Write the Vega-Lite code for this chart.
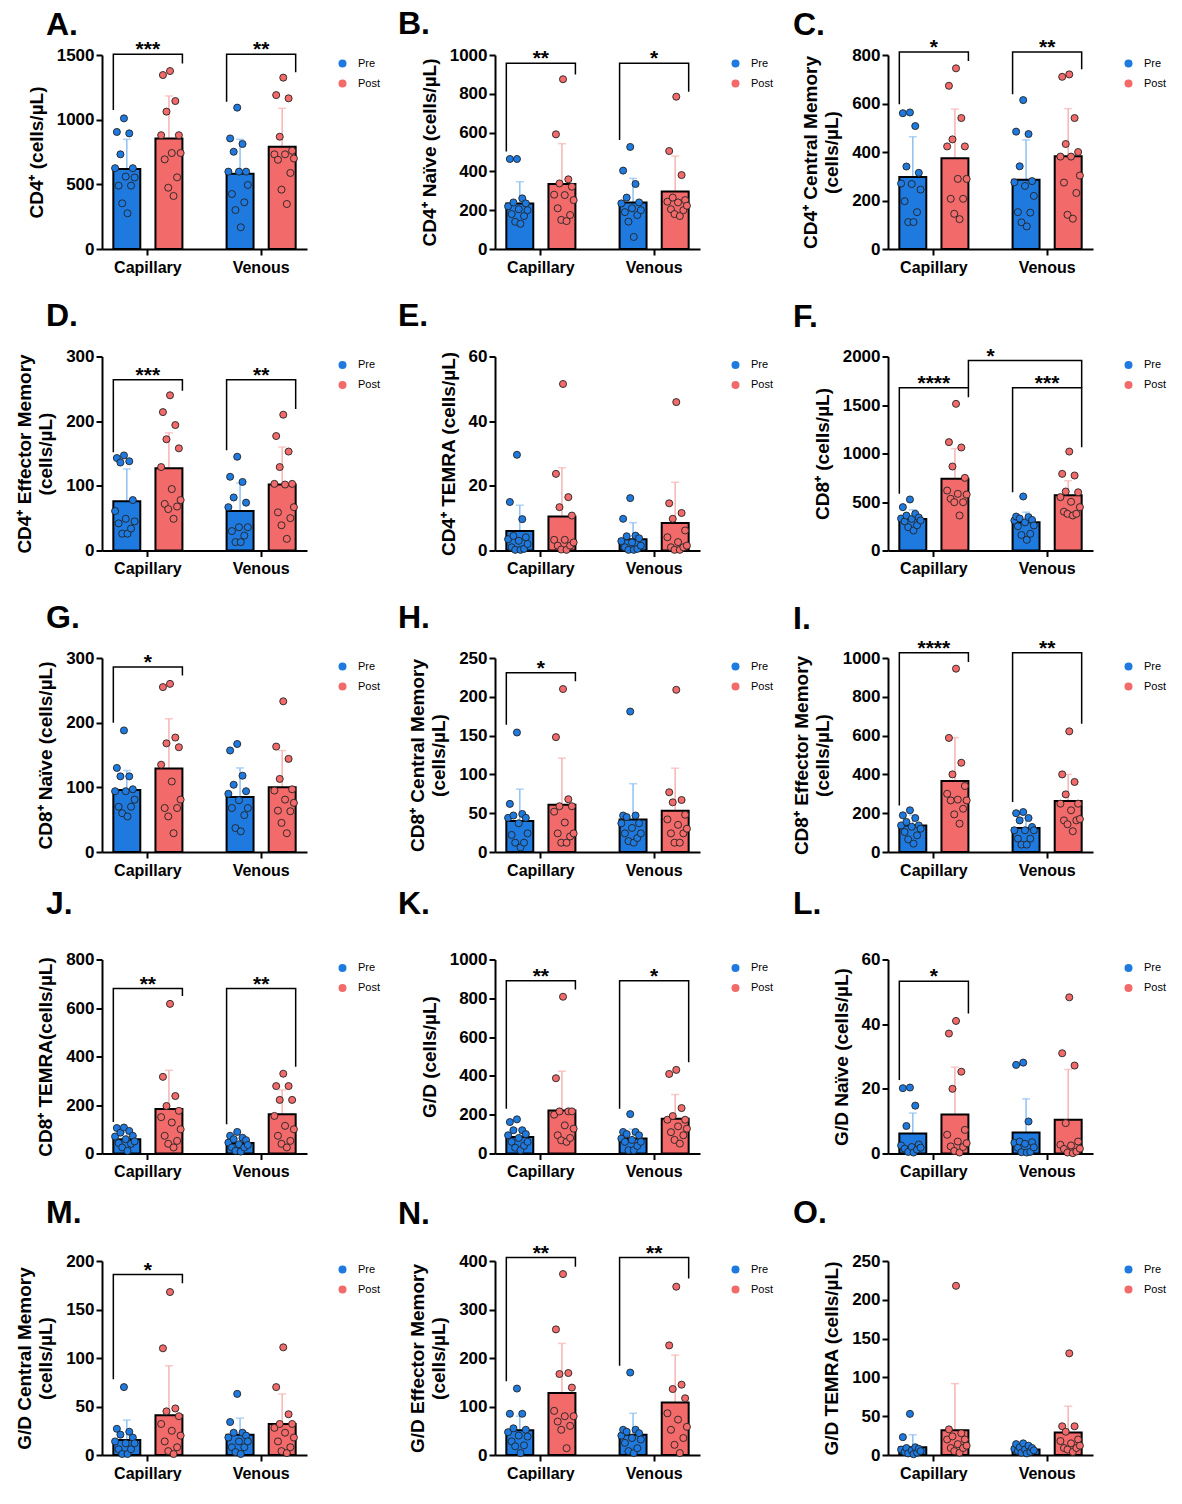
{
  "$schema": "https://vega.github.io/schema/vega-lite/v6.json",
  "padding": {"left": 15, "top": 8, "right": 0, "bottom": 0},
  "columns": 3,
  "bounds": "flush",
  "spacing": {"row": 107.5, "column": 188},
  "resolve": {"scale": {"color": "independent"}, "legend": {"color": "independent"}},
  "datasets": {
    "summary": [
      {"p":"A","s":"Capillary","t":"Pre","v":618,"hi":848},{"p":"A","s":"Capillary","t":"Post","v":855,"hi":1183},{"p":"A","s":"Venous","t":"Pre","v":582,"hi":848},{"p":"A","s":"Venous","t":"Post","v":791,"hi":1088},
      {"p":"B","s":"Capillary","t":"Pre","v":235,"hi":347},{"p":"B","s":"Capillary","t":"Post","v":335,"hi":543},{"p":"B","s":"Venous","t":"Pre","v":240,"hi":364},{"p":"B","s":"Venous","t":"Post","v":296,"hi":479},
      {"p":"C","s":"Capillary","t":"Pre","v":297,"hi":463},{"p":"C","s":"Capillary","t":"Post","v":374,"hi":577},{"p":"C","s":"Venous","t":"Pre","v":286,"hi":450},{"p":"C","s":"Venous","t":"Post","v":382,"hi":579},
      {"p":"D","s":"Capillary","t":"Pre","v":76,"hi":126},{"p":"D","s":"Capillary","t":"Post","v":127,"hi":182},{"p":"D","s":"Venous","t":"Pre","v":61,"hi":104},{"p":"D","s":"Venous","t":"Post","v":102,"hi":160},
      {"p":"E","s":"Capillary","t":"Pre","v":6.0,"hi":14},{"p":"E","s":"Capillary","t":"Post","v":10.5,"hi":25.6},{"p":"E","s":"Venous","t":"Pre","v":3.5,"hi":8.6},{"p":"E","s":"Venous","t":"Post","v":8.5,"hi":21.1},
      {"p":"F","s":"Capillary","t":"Pre","v":326,"hi":420},{"p":"F","s":"Capillary","t":"Post","v":740,"hi":1050},{"p":"F","s":"Venous","t":"Pre","v":292,"hi":395},{"p":"F","s":"Venous","t":"Post","v":570,"hi":720},
      {"p":"G","s":"Capillary","t":"Pre","v":96,"hi":126},{"p":"G","s":"Capillary","t":"Post","v":129,"hi":206},{"p":"G","s":"Venous","t":"Pre","v":85,"hi":130},{"p":"G","s":"Venous","t":"Post","v":100,"hi":157},
      {"p":"H","s":"Capillary","t":"Pre","v":40,"hi":81},{"p":"H","s":"Capillary","t":"Post","v":61,"hi":121},{"p":"H","s":"Venous","t":"Pre","v":42,"hi":88},{"p":"H","s":"Venous","t":"Post","v":53,"hi":108},
      {"p":"I","s":"Capillary","t":"Pre","v":137,"hi":190},{"p":"I","s":"Capillary","t":"Post","v":366,"hi":590},{"p":"I","s":"Venous","t":"Pre","v":124,"hi":175},{"p":"I","s":"Venous","t":"Post","v":263,"hi":400},
      {"p":"J","s":"Capillary","t":"Pre","v":59,"hi":86},{"p":"J","s":"Capillary","t":"Post","v":183,"hi":343},{"p":"J","s":"Venous","t":"Pre","v":43,"hi":62},{"p":"J","s":"Venous","t":"Post","v":162,"hi":262},
      {"p":"K","s":"Capillary","t":"Pre","v":85,"hi":128},{"p":"K","s":"Capillary","t":"Post","v":222,"hi":424},{"p":"K","s":"Venous","t":"Pre","v":77,"hi":125},{"p":"K","s":"Venous","t":"Post","v":179,"hi":304},
      {"p":"L","s":"Capillary","t":"Pre","v":6.2,"hi":12.5},{"p":"L","s":"Capillary","t":"Post","v":12.1,"hi":26.7},{"p":"L","s":"Venous","t":"Pre","v":6.5,"hi":16.9},{"p":"L","s":"Venous","t":"Post","v":10.4,"hi":26},
      {"p":"M","s":"Capillary","t":"Pre","v":15.5,"hi":36},{"p":"M","s":"Capillary","t":"Post","v":41,"hi":92},{"p":"M","s":"Venous","t":"Pre","v":21,"hi":38},{"p":"M","s":"Venous","t":"Post","v":32,"hi":63},
      {"p":"N","s":"Capillary","t":"Pre","v":51,"hi":80},{"p":"N","s":"Capillary","t":"Post","v":128,"hi":230},{"p":"N","s":"Venous","t":"Pre","v":42,"hi":86},{"p":"N","s":"Venous","t":"Post","v":108,"hi":206},
      {"p":"O","s":"Capillary","t":"Pre","v":10,"hi":26},{"p":"O","s":"Capillary","t":"Post","v":32,"hi":92},{"p":"O","s":"Venous","t":"Pre","v":7,"hi":12},{"p":"O","s":"Venous","t":"Post","v":29,"hi":63}
    ],
    "pts": [
      {"p":"A","s":"Capillary","t":"Pre","v":625},{"p":"A","s":"Capillary","t":"Pre","v":905},{"p":"A","s":"Capillary","t":"Pre","v":490},{"p":"A","s":"Capillary","t":"Pre","v":732},{"p":"A","s":"Capillary","t":"Pre","v":353},{"p":"A","s":"Capillary","t":"Pre","v":1010},{"p":"A","s":"Capillary","t":"Pre","v":560},{"p":"A","s":"Capillary","t":"Pre","v":276},{"p":"A","s":"Capillary","t":"Pre","v":894},{"p":"A","s":"Capillary","t":"Pre","v":490},{"p":"A","s":"Capillary","t":"Pre","v":625},{"p":"A","s":"Capillary","t":"Pre","v":553},
      {"p":"A","s":"Capillary","t":"Post","v":880},{"p":"A","s":"Capillary","t":"Post","v":1345},{"p":"A","s":"Capillary","t":"Post","v":693},{"p":"A","s":"Capillary","t":"Post","v":1062},{"p":"A","s":"Capillary","t":"Post","v":474},{"p":"A","s":"Capillary","t":"Post","v":1376},{"p":"A","s":"Capillary","t":"Post","v":742},{"p":"A","s":"Capillary","t":"Post","v":410},{"p":"A","s":"Capillary","t":"Post","v":1144},{"p":"A","s":"Capillary","t":"Post","v":554},{"p":"A","s":"Capillary","t":"Post","v":880},{"p":"A","s":"Capillary","t":"Post","v":742},
      {"p":"A","s":"Venous","t":"Pre","v":598},{"p":"A","s":"Venous","t":"Pre","v":855},{"p":"A","s":"Venous","t":"Pre","v":425},{"p":"A","s":"Venous","t":"Pre","v":752},{"p":"A","s":"Venous","t":"Pre","v":301},{"p":"A","s":"Venous","t":"Pre","v":1093},{"p":"A","s":"Venous","t":"Pre","v":598},{"p":"A","s":"Venous","t":"Pre","v":168},{"p":"A","s":"Venous","t":"Pre","v":812},{"p":"A","s":"Venous","t":"Pre","v":361},{"p":"A","s":"Venous","t":"Pre","v":598},{"p":"A","s":"Venous","t":"Pre","v":495},
      {"p":"A","s":"Venous","t":"Post","v":732},{"p":"A","s":"Venous","t":"Post","v":1190},{"p":"A","s":"Venous","t":"Post","v":690},{"p":"A","s":"Venous","t":"Post","v":868},{"p":"A","s":"Venous","t":"Post","v":459},{"p":"A","s":"Venous","t":"Post","v":1325},{"p":"A","s":"Venous","t":"Post","v":732},{"p":"A","s":"Venous","t":"Post","v":348},{"p":"A","s":"Venous","t":"Post","v":1165},{"p":"A","s":"Venous","t":"Post","v":588},{"p":"A","s":"Venous","t":"Post","v":760},{"p":"A","s":"Venous","t":"Post","v":700},
      {"p":"B","s":"Capillary","t":"Pre","v":220},{"p":"B","s":"Capillary","t":"Pre","v":464},{"p":"B","s":"Capillary","t":"Pre","v":180},{"p":"B","s":"Capillary","t":"Pre","v":240},{"p":"B","s":"Capillary","t":"Pre","v":140},{"p":"B","s":"Capillary","t":"Pre","v":464},{"p":"B","s":"Capillary","t":"Pre","v":205},{"p":"B","s":"Capillary","t":"Pre","v":130},{"p":"B","s":"Capillary","t":"Pre","v":261},{"p":"B","s":"Capillary","t":"Pre","v":170},{"p":"B","s":"Capillary","t":"Pre","v":235},{"p":"B","s":"Capillary","t":"Pre","v":200},
      {"p":"B","s":"Capillary","t":"Post","v":280},{"p":"B","s":"Capillary","t":"Post","v":591},{"p":"B","s":"Capillary","t":"Post","v":210},{"p":"B","s":"Capillary","t":"Post","v":338},{"p":"B","s":"Capillary","t":"Post","v":150},{"p":"B","s":"Capillary","t":"Post","v":875},{"p":"B","s":"Capillary","t":"Post","v":278},{"p":"B","s":"Capillary","t":"Post","v":144},{"p":"B","s":"Capillary","t":"Post","v":359},{"p":"B","s":"Capillary","t":"Post","v":175},{"p":"B","s":"Capillary","t":"Post","v":321},{"p":"B","s":"Capillary","t":"Post","v":252},
      {"p":"B","s":"Venous","t":"Pre","v":235},{"p":"B","s":"Venous","t":"Pre","v":404},{"p":"B","s":"Venous","t":"Pre","v":190},{"p":"B","s":"Venous","t":"Pre","v":265},{"p":"B","s":"Venous","t":"Pre","v":141},{"p":"B","s":"Venous","t":"Pre","v":526},{"p":"B","s":"Venous","t":"Pre","v":210},{"p":"B","s":"Venous","t":"Pre","v":62},{"p":"B","s":"Venous","t":"Pre","v":335},{"p":"B","s":"Venous","t":"Pre","v":175},{"p":"B","s":"Venous","t":"Pre","v":240},{"p":"B","s":"Venous","t":"Pre","v":200},
      {"p":"B","s":"Venous","t":"Post","v":244},{"p":"B","s":"Venous","t":"Post","v":505},{"p":"B","s":"Venous","t":"Post","v":205},{"p":"B","s":"Venous","t":"Post","v":265},{"p":"B","s":"Venous","t":"Post","v":180},{"p":"B","s":"Venous","t":"Post","v":785},{"p":"B","s":"Venous","t":"Post","v":240},{"p":"B","s":"Venous","t":"Post","v":170},{"p":"B","s":"Venous","t":"Post","v":381},{"p":"B","s":"Venous","t":"Post","v":200},{"p":"B","s":"Venous","t":"Post","v":252},{"p":"B","s":"Venous","t":"Post","v":223},
      {"p":"C","s":"Capillary","t":"Pre","v":270},{"p":"C","s":"Capillary","t":"Pre","v":560},{"p":"C","s":"Capillary","t":"Pre","v":197},{"p":"C","s":"Capillary","t":"Pre","v":340},{"p":"C","s":"Capillary","t":"Pre","v":111},{"p":"C","s":"Capillary","t":"Pre","v":563},{"p":"C","s":"Capillary","t":"Pre","v":268},{"p":"C","s":"Capillary","t":"Pre","v":111},{"p":"C","s":"Capillary","t":"Pre","v":507},{"p":"C","s":"Capillary","t":"Pre","v":152},{"p":"C","s":"Capillary","t":"Pre","v":314},{"p":"C","s":"Capillary","t":"Pre","v":245},
      {"p":"C","s":"Capillary","t":"Post","v":423},{"p":"C","s":"Capillary","t":"Post","v":673},{"p":"C","s":"Capillary","t":"Post","v":207},{"p":"C","s":"Capillary","t":"Post","v":452},{"p":"C","s":"Capillary","t":"Post","v":145},{"p":"C","s":"Capillary","t":"Post","v":745},{"p":"C","s":"Capillary","t":"Post","v":289},{"p":"C","s":"Capillary","t":"Post","v":123},{"p":"C","s":"Capillary","t":"Post","v":540},{"p":"C","s":"Capillary","t":"Post","v":207},{"p":"C","s":"Capillary","t":"Post","v":423},{"p":"C","s":"Capillary","t":"Post","v":289},
      {"p":"C","s":"Venous","t":"Pre","v":275},{"p":"C","s":"Venous","t":"Pre","v":484},{"p":"C","s":"Venous","t":"Pre","v":152},{"p":"C","s":"Venous","t":"Pre","v":341},{"p":"C","s":"Venous","t":"Pre","v":110},{"p":"C","s":"Venous","t":"Pre","v":614},{"p":"C","s":"Venous","t":"Pre","v":260},{"p":"C","s":"Venous","t":"Pre","v":93},{"p":"C","s":"Venous","t":"Pre","v":474},{"p":"C","s":"Venous","t":"Pre","v":150},{"p":"C","s":"Venous","t":"Pre","v":280},{"p":"C","s":"Venous","t":"Pre","v":219},
      {"p":"C","s":"Venous","t":"Post","v":381},{"p":"C","s":"Venous","t":"Post","v":710},{"p":"C","s":"Venous","t":"Post","v":274},{"p":"C","s":"Venous","t":"Post","v":433},{"p":"C","s":"Venous","t":"Post","v":141},{"p":"C","s":"Venous","t":"Post","v":720},{"p":"C","s":"Venous","t":"Post","v":381},{"p":"C","s":"Venous","t":"Post","v":125},{"p":"C","s":"Venous","t":"Post","v":540},{"p":"C","s":"Venous","t":"Post","v":231},{"p":"C","s":"Venous","t":"Post","v":400},{"p":"C","s":"Venous","t":"Post","v":303},
      {"p":"D","s":"Capillary","t":"Pre","v":61},{"p":"D","s":"Capillary","t":"Pre","v":143},{"p":"D","s":"Capillary","t":"Pre","v":42},{"p":"D","s":"Capillary","t":"Pre","v":136},{"p":"D","s":"Capillary","t":"Pre","v":26},{"p":"D","s":"Capillary","t":"Pre","v":147},{"p":"D","s":"Capillary","t":"Pre","v":49},{"p":"D","s":"Capillary","t":"Pre","v":26},{"p":"D","s":"Capillary","t":"Pre","v":138},{"p":"D","s":"Capillary","t":"Pre","v":34},{"p":"D","s":"Capillary","t":"Pre","v":78},{"p":"D","s":"Capillary","t":"Pre","v":45},
      {"p":"D","s":"Capillary","t":"Post","v":129},{"p":"D","s":"Capillary","t":"Post","v":214},{"p":"D","s":"Capillary","t":"Post","v":72},{"p":"D","s":"Capillary","t":"Post","v":172},{"p":"D","s":"Capillary","t":"Post","v":64},{"p":"D","s":"Capillary","t":"Post","v":240},{"p":"D","s":"Capillary","t":"Post","v":95},{"p":"D","s":"Capillary","t":"Post","v":49},{"p":"D","s":"Capillary","t":"Post","v":194},{"p":"D","s":"Capillary","t":"Post","v":68},{"p":"D","s":"Capillary","t":"Post","v":158},{"p":"D","s":"Capillary","t":"Post","v":78},
      {"p":"D","s":"Venous","t":"Pre","v":67},{"p":"D","s":"Venous","t":"Pre","v":114},{"p":"D","s":"Venous","t":"Pre","v":30},{"p":"D","s":"Venous","t":"Pre","v":82},{"p":"D","s":"Venous","t":"Pre","v":13},{"p":"D","s":"Venous","t":"Pre","v":145},{"p":"D","s":"Venous","t":"Pre","v":36},{"p":"D","s":"Venous","t":"Pre","v":13},{"p":"D","s":"Venous","t":"Pre","v":106},{"p":"D","s":"Venous","t":"Pre","v":23},{"p":"D","s":"Venous","t":"Pre","v":74},{"p":"D","s":"Venous","t":"Pre","v":36},
      {"p":"D","s":"Venous","t":"Post","v":103},{"p":"D","s":"Venous","t":"Post","v":177},{"p":"D","s":"Venous","t":"Post","v":59},{"p":"D","s":"Venous","t":"Post","v":129},{"p":"D","s":"Venous","t":"Post","v":39},{"p":"D","s":"Venous","t":"Post","v":210},{"p":"D","s":"Venous","t":"Post","v":102},{"p":"D","s":"Venous","t":"Post","v":18},{"p":"D","s":"Venous","t":"Post","v":153},{"p":"D","s":"Venous","t":"Post","v":50},{"p":"D","s":"Venous","t":"Post","v":103},{"p":"D","s":"Venous","t":"Post","v":67},
      {"p":"E","s":"Capillary","t":"Pre","v":3.5},{"p":"E","s":"Capillary","t":"Pre","v":15},{"p":"E","s":"Capillary","t":"Pre","v":1},{"p":"E","s":"Capillary","t":"Pre","v":4.5},{"p":"E","s":"Capillary","t":"Pre","v":0.2},{"p":"E","s":"Capillary","t":"Pre","v":29.6},{"p":"E","s":"Capillary","t":"Pre","v":3},{"p":"E","s":"Capillary","t":"Pre","v":0.2},{"p":"E","s":"Capillary","t":"Pre","v":9.7},{"p":"E","s":"Capillary","t":"Pre","v":0.5},{"p":"E","s":"Capillary","t":"Pre","v":4.1},{"p":"E","s":"Capillary","t":"Pre","v":2},
      {"p":"E","s":"Capillary","t":"Post","v":3.3},{"p":"E","s":"Capillary","t":"Post","v":23.7},{"p":"E","s":"Capillary","t":"Post","v":1.5},{"p":"E","s":"Capillary","t":"Post","v":13.4},{"p":"E","s":"Capillary","t":"Post","v":0.3},{"p":"E","s":"Capillary","t":"Post","v":51.5},{"p":"E","s":"Capillary","t":"Post","v":3.3},{"p":"E","s":"Capillary","t":"Post","v":0.2},{"p":"E","s":"Capillary","t":"Post","v":16.5},{"p":"E","s":"Capillary","t":"Post","v":1.5},{"p":"E","s":"Capillary","t":"Post","v":10.8},{"p":"E","s":"Capillary","t":"Post","v":2.5},
      {"p":"E","s":"Venous","t":"Pre","v":2.9},{"p":"E","s":"Venous","t":"Pre","v":9.8},{"p":"E","s":"Venous","t":"Pre","v":1.0},{"p":"E","s":"Venous","t":"Pre","v":4.4},{"p":"E","s":"Venous","t":"Pre","v":0.2},{"p":"E","s":"Venous","t":"Pre","v":16.2},{"p":"E","s":"Venous","t":"Pre","v":2.5},{"p":"E","s":"Venous","t":"Pre","v":0.2},{"p":"E","s":"Venous","t":"Pre","v":4.6},{"p":"E","s":"Venous","t":"Pre","v":0.5},{"p":"E","s":"Venous","t":"Pre","v":3.8},{"p":"E","s":"Venous","t":"Pre","v":1.5},
      {"p":"E","s":"Venous","t":"Post","v":4.1},{"p":"E","s":"Venous","t":"Post","v":14.6},{"p":"E","s":"Venous","t":"Post","v":1.0},{"p":"E","s":"Venous","t":"Post","v":9.8},{"p":"E","s":"Venous","t":"Post","v":0.2},{"p":"E","s":"Venous","t":"Post","v":45.9},{"p":"E","s":"Venous","t":"Post","v":2.6},{"p":"E","s":"Venous","t":"Post","v":0.2},{"p":"E","s":"Venous","t":"Post","v":11.6},{"p":"E","s":"Venous","t":"Post","v":1.0},{"p":"E","s":"Venous","t":"Post","v":6.2},{"p":"E","s":"Venous","t":"Post","v":1.5},
      {"p":"F","s":"Capillary","t":"Pre","v":330},{"p":"F","s":"Capillary","t":"Pre","v":447},{"p":"F","s":"Capillary","t":"Pre","v":300},{"p":"F","s":"Capillary","t":"Pre","v":360},{"p":"F","s":"Capillary","t":"Pre","v":240},{"p":"F","s":"Capillary","t":"Pre","v":526},{"p":"F","s":"Capillary","t":"Pre","v":326},{"p":"F","s":"Capillary","t":"Pre","v":206},{"p":"F","s":"Capillary","t":"Pre","v":378},{"p":"F","s":"Capillary","t":"Pre","v":260},{"p":"F","s":"Capillary","t":"Pre","v":340},{"p":"F","s":"Capillary","t":"Pre","v":310},
      {"p":"F","s":"Capillary","t":"Post","v":618},{"p":"F","s":"Capillary","t":"Post","v":1117},{"p":"F","s":"Capillary","t":"Post","v":533},{"p":"F","s":"Capillary","t":"Post","v":866},{"p":"F","s":"Capillary","t":"Post","v":498},{"p":"F","s":"Capillary","t":"Post","v":1512},{"p":"F","s":"Capillary","t":"Post","v":584},{"p":"F","s":"Capillary","t":"Post","v":361},{"p":"F","s":"Capillary","t":"Post","v":1062},{"p":"F","s":"Capillary","t":"Post","v":498},{"p":"F","s":"Capillary","t":"Post","v":749},{"p":"F","s":"Capillary","t":"Post","v":577},
      {"p":"F","s":"Venous","t":"Pre","v":310},{"p":"F","s":"Venous","t":"Pre","v":350},{"p":"F","s":"Venous","t":"Pre","v":250},{"p":"F","s":"Venous","t":"Pre","v":330},{"p":"F","s":"Venous","t":"Pre","v":160},{"p":"F","s":"Venous","t":"Pre","v":557},{"p":"F","s":"Venous","t":"Pre","v":290},{"p":"F","s":"Venous","t":"Pre","v":110},{"p":"F","s":"Venous","t":"Pre","v":344},{"p":"F","s":"Venous","t":"Pre","v":172},{"p":"F","s":"Venous","t":"Pre","v":315},{"p":"F","s":"Venous","t":"Pre","v":258},
      {"p":"F","s":"Venous","t":"Post","v":550},{"p":"F","s":"Venous","t":"Post","v":790},{"p":"F","s":"Venous","t":"Post","v":400},{"p":"F","s":"Venous","t":"Post","v":608},{"p":"F","s":"Venous","t":"Post","v":378},{"p":"F","s":"Venous","t":"Post","v":1020},{"p":"F","s":"Venous","t":"Post","v":502},{"p":"F","s":"Venous","t":"Post","v":361},{"p":"F","s":"Venous","t":"Post","v":773},{"p":"F","s":"Venous","t":"Post","v":378},{"p":"F","s":"Venous","t":"Post","v":600},{"p":"F","s":"Venous","t":"Post","v":447},
      {"p":"G","s":"Capillary","t":"Pre","v":94},{"p":"G","s":"Capillary","t":"Pre","v":130},{"p":"G","s":"Capillary","t":"Pre","v":70},{"p":"G","s":"Capillary","t":"Pre","v":117},{"p":"G","s":"Capillary","t":"Pre","v":60},{"p":"G","s":"Capillary","t":"Pre","v":188},{"p":"G","s":"Capillary","t":"Pre","v":94},{"p":"G","s":"Capillary","t":"Pre","v":55},{"p":"G","s":"Capillary","t":"Pre","v":117},{"p":"G","s":"Capillary","t":"Pre","v":70},{"p":"G","s":"Capillary","t":"Pre","v":97},{"p":"G","s":"Capillary","t":"Pre","v":81},
      {"p":"G","s":"Capillary","t":"Post","v":135},{"p":"G","s":"Capillary","t":"Post","v":255},{"p":"G","s":"Capillary","t":"Post","v":68},{"p":"G","s":"Capillary","t":"Post","v":168},{"p":"G","s":"Capillary","t":"Post","v":55},{"p":"G","s":"Capillary","t":"Post","v":260},{"p":"G","s":"Capillary","t":"Post","v":109},{"p":"G","s":"Capillary","t":"Post","v":29},{"p":"G","s":"Capillary","t":"Post","v":177},{"p":"G","s":"Capillary","t":"Post","v":68},{"p":"G","s":"Capillary","t":"Post","v":162},{"p":"G","s":"Capillary","t":"Post","v":81},
      {"p":"G","s":"Venous","t":"Pre","v":90},{"p":"G","s":"Venous","t":"Pre","v":157},{"p":"G","s":"Venous","t":"Pre","v":68},{"p":"G","s":"Venous","t":"Pre","v":104},{"p":"G","s":"Venous","t":"Pre","v":37},{"p":"G","s":"Venous","t":"Pre","v":167},{"p":"G","s":"Venous","t":"Pre","v":80},{"p":"G","s":"Venous","t":"Pre","v":32},{"p":"G","s":"Venous","t":"Pre","v":118},{"p":"G","s":"Venous","t":"Pre","v":57},{"p":"G","s":"Venous","t":"Pre","v":94},{"p":"G","s":"Venous","t":"Pre","v":68},
      {"p":"G","s":"Venous","t":"Post","v":95},{"p":"G","s":"Venous","t":"Post","v":163},{"p":"G","s":"Venous","t":"Post","v":64},{"p":"G","s":"Venous","t":"Post","v":113},{"p":"G","s":"Venous","t":"Post","v":45},{"p":"G","s":"Venous","t":"Post","v":233},{"p":"G","s":"Venous","t":"Post","v":81},{"p":"G","s":"Venous","t":"Post","v":29},{"p":"G","s":"Venous","t":"Post","v":144},{"p":"G","s":"Venous","t":"Post","v":63},{"p":"G","s":"Venous","t":"Post","v":97},{"p":"G","s":"Venous","t":"Post","v":76},
      {"p":"H","s":"Capillary","t":"Pre","v":44},{"p":"H","s":"Capillary","t":"Pre","v":62},{"p":"H","s":"Capillary","t":"Pre","v":22},{"p":"H","s":"Capillary","t":"Pre","v":47},{"p":"H","s":"Capillary","t":"Pre","v":12},{"p":"H","s":"Capillary","t":"Pre","v":154},{"p":"H","s":"Capillary","t":"Pre","v":37},{"p":"H","s":"Capillary","t":"Pre","v":6},{"p":"H","s":"Capillary","t":"Pre","v":49},{"p":"H","s":"Capillary","t":"Pre","v":12},{"p":"H","s":"Capillary","t":"Pre","v":44},{"p":"H","s":"Capillary","t":"Pre","v":24},
      {"p":"H","s":"Capillary","t":"Post","v":52},{"p":"H","s":"Capillary","t":"Post","v":148},{"p":"H","s":"Capillary","t":"Post","v":24},{"p":"H","s":"Capillary","t":"Post","v":59},{"p":"H","s":"Capillary","t":"Post","v":12},{"p":"H","s":"Capillary","t":"Post","v":210},{"p":"H","s":"Capillary","t":"Post","v":38},{"p":"H","s":"Capillary","t":"Post","v":12},{"p":"H","s":"Capillary","t":"Post","v":68},{"p":"H","s":"Capillary","t":"Post","v":20},{"p":"H","s":"Capillary","t":"Post","v":59},{"p":"H","s":"Capillary","t":"Post","v":24},
      {"p":"H","s":"Venous","t":"Pre","v":37},{"p":"H","s":"Venous","t":"Pre","v":47},{"p":"H","s":"Venous","t":"Pre","v":24},{"p":"H","s":"Venous","t":"Pre","v":45},{"p":"H","s":"Venous","t":"Pre","v":14},{"p":"H","s":"Venous","t":"Pre","v":181},{"p":"H","s":"Venous","t":"Pre","v":31},{"p":"H","s":"Venous","t":"Pre","v":12},{"p":"H","s":"Venous","t":"Pre","v":47},{"p":"H","s":"Venous","t":"Pre","v":18},{"p":"H","s":"Venous","t":"Pre","v":37},{"p":"H","s":"Venous","t":"Pre","v":24},
      {"p":"H","s":"Venous","t":"Post","v":42},{"p":"H","s":"Venous","t":"Post","v":77},{"p":"H","s":"Venous","t":"Post","v":24},{"p":"H","s":"Venous","t":"Post","v":64},{"p":"H","s":"Venous","t":"Post","v":12},{"p":"H","s":"Venous","t":"Post","v":209},{"p":"H","s":"Venous","t":"Post","v":35},{"p":"H","s":"Venous","t":"Post","v":12},{"p":"H","s":"Venous","t":"Post","v":67},{"p":"H","s":"Venous","t":"Post","v":24},{"p":"H","s":"Venous","t":"Post","v":48},{"p":"H","s":"Venous","t":"Post","v":30},
      {"p":"I","s":"Capillary","t":"Pre","v":137},{"p":"I","s":"Capillary","t":"Pre","v":189},{"p":"I","s":"Capillary","t":"Pre","v":103},{"p":"I","s":"Capillary","t":"Pre","v":155},{"p":"I","s":"Capillary","t":"Pre","v":65},{"p":"I","s":"Capillary","t":"Pre","v":215},{"p":"I","s":"Capillary","t":"Pre","v":130},{"p":"I","s":"Capillary","t":"Pre","v":43},{"p":"I","s":"Capillary","t":"Pre","v":175},{"p":"I","s":"Capillary","t":"Pre","v":86},{"p":"I","s":"Capillary","t":"Pre","v":137},{"p":"I","s":"Capillary","t":"Pre","v":120},
      {"p":"I","s":"Capillary","t":"Post","v":300},{"p":"I","s":"Capillary","t":"Post","v":588},{"p":"I","s":"Capillary","t":"Post","v":266},{"p":"I","s":"Capillary","t":"Post","v":400},{"p":"I","s":"Capillary","t":"Post","v":194},{"p":"I","s":"Capillary","t":"Post","v":945},{"p":"I","s":"Capillary","t":"Post","v":270},{"p":"I","s":"Capillary","t":"Post","v":146},{"p":"I","s":"Capillary","t":"Post","v":460},{"p":"I","s":"Capillary","t":"Post","v":223},{"p":"I","s":"Capillary","t":"Post","v":340},{"p":"I","s":"Capillary","t":"Post","v":266},
      {"p":"I","s":"Venous","t":"Pre","v":112},{"p":"I","s":"Venous","t":"Pre","v":200},{"p":"I","s":"Venous","t":"Pre","v":69},{"p":"I","s":"Venous","t":"Pre","v":163},{"p":"I","s":"Venous","t":"Pre","v":38},{"p":"I","s":"Venous","t":"Pre","v":206},{"p":"I","s":"Venous","t":"Pre","v":112},{"p":"I","s":"Venous","t":"Pre","v":38},{"p":"I","s":"Venous","t":"Pre","v":175},{"p":"I","s":"Venous","t":"Pre","v":69},{"p":"I","s":"Venous","t":"Pre","v":129},{"p":"I","s":"Venous","t":"Pre","v":112},
      {"p":"I","s":"Venous","t":"Post","v":249},{"p":"I","s":"Venous","t":"Post","v":400},{"p":"I","s":"Venous","t":"Post","v":163},{"p":"I","s":"Venous","t":"Post","v":297},{"p":"I","s":"Venous","t":"Post","v":143},{"p":"I","s":"Venous","t":"Post","v":622},{"p":"I","s":"Venous","t":"Post","v":215},{"p":"I","s":"Venous","t":"Post","v":107},{"p":"I","s":"Venous","t":"Post","v":361},{"p":"I","s":"Venous","t":"Post","v":163},{"p":"I","s":"Venous","t":"Post","v":249},{"p":"I","s":"Venous","t":"Post","v":170},
      {"p":"J","s":"Capillary","t":"Pre","v":70},{"p":"J","s":"Capillary","t":"Pre","v":105},{"p":"J","s":"Capillary","t":"Pre","v":43},{"p":"J","s":"Capillary","t":"Pre","v":86},{"p":"J","s":"Capillary","t":"Pre","v":25},{"p":"J","s":"Capillary","t":"Pre","v":107},{"p":"J","s":"Capillary","t":"Pre","v":59},{"p":"J","s":"Capillary","t":"Pre","v":11},{"p":"J","s":"Capillary","t":"Pre","v":93},{"p":"J","s":"Capillary","t":"Pre","v":40},{"p":"J","s":"Capillary","t":"Pre","v":73},{"p":"J","s":"Capillary","t":"Pre","v":50},
      {"p":"J","s":"Capillary","t":"Post","v":150},{"p":"J","s":"Capillary","t":"Post","v":316},{"p":"J","s":"Capillary","t":"Post","v":73},{"p":"J","s":"Capillary","t":"Post","v":196},{"p":"J","s":"Capillary","t":"Post","v":40},{"p":"J","s":"Capillary","t":"Post","v":617},{"p":"J","s":"Capillary","t":"Post","v":128},{"p":"J","s":"Capillary","t":"Post","v":25},{"p":"J","s":"Capillary","t":"Post","v":237},{"p":"J","s":"Capillary","t":"Post","v":52},{"p":"J","s":"Capillary","t":"Post","v":176},{"p":"J","s":"Capillary","t":"Post","v":100},
      {"p":"J","s":"Venous","t":"Pre","v":45},{"p":"J","s":"Venous","t":"Pre","v":73},{"p":"J","s":"Venous","t":"Pre","v":25},{"p":"J","s":"Venous","t":"Pre","v":59},{"p":"J","s":"Venous","t":"Pre","v":11},{"p":"J","s":"Venous","t":"Pre","v":89},{"p":"J","s":"Venous","t":"Pre","v":38},{"p":"J","s":"Venous","t":"Pre","v":8},{"p":"J","s":"Venous","t":"Pre","v":65},{"p":"J","s":"Venous","t":"Pre","v":25},{"p":"J","s":"Venous","t":"Pre","v":55},{"p":"J","s":"Venous","t":"Pre","v":35},
      {"p":"J","s":"Venous","t":"Post","v":155},{"p":"J","s":"Venous","t":"Post","v":278},{"p":"J","s":"Venous","t":"Post","v":73},{"p":"J","s":"Venous","t":"Post","v":221},{"p":"J","s":"Venous","t":"Post","v":40},{"p":"J","s":"Venous","t":"Post","v":329},{"p":"J","s":"Venous","t":"Post","v":114},{"p":"J","s":"Venous","t":"Post","v":25},{"p":"J","s":"Venous","t":"Post","v":278},{"p":"J","s":"Venous","t":"Post","v":52},{"p":"J","s":"Venous","t":"Post","v":221},{"p":"J","s":"Venous","t":"Post","v":100},
      {"p":"K","s":"Capillary","t":"Pre","v":94},{"p":"K","s":"Capillary","t":"Pre","v":162},{"p":"K","s":"Capillary","t":"Pre","v":60},{"p":"K","s":"Capillary","t":"Pre","v":120},{"p":"K","s":"Capillary","t":"Pre","v":30},{"p":"K","s":"Capillary","t":"Pre","v":176},{"p":"K","s":"Capillary","t":"Pre","v":80},{"p":"K","s":"Capillary","t":"Pre","v":17},{"p":"K","s":"Capillary","t":"Pre","v":120},{"p":"K","s":"Capillary","t":"Pre","v":40},{"p":"K","s":"Capillary","t":"Pre","v":100},{"p":"K","s":"Capillary","t":"Pre","v":60},
      {"p":"K","s":"Capillary","t":"Post","v":200},{"p":"K","s":"Capillary","t":"Post","v":388},{"p":"K","s":"Capillary","t":"Post","v":94},{"p":"K","s":"Capillary","t":"Post","v":217},{"p":"K","s":"Capillary","t":"Post","v":68},{"p":"K","s":"Capillary","t":"Post","v":808},{"p":"K","s":"Capillary","t":"Post","v":145},{"p":"K","s":"Capillary","t":"Post","v":60},{"p":"K","s":"Capillary","t":"Post","v":217},{"p":"K","s":"Capillary","t":"Post","v":80},{"p":"K","s":"Capillary","t":"Post","v":217},{"p":"K","s":"Capillary","t":"Post","v":128},
      {"p":"K","s":"Venous","t":"Pre","v":77},{"p":"K","s":"Venous","t":"Pre","v":111},{"p":"K","s":"Venous","t":"Pre","v":60},{"p":"K","s":"Venous","t":"Pre","v":100},{"p":"K","s":"Venous","t":"Pre","v":17},{"p":"K","s":"Venous","t":"Pre","v":203},{"p":"K","s":"Venous","t":"Pre","v":70},{"p":"K","s":"Venous","t":"Pre","v":17},{"p":"K","s":"Venous","t":"Pre","v":111},{"p":"K","s":"Venous","t":"Pre","v":39},{"p":"K","s":"Venous","t":"Pre","v":94},{"p":"K","s":"Venous","t":"Pre","v":60},
      {"p":"K","s":"Venous","t":"Post","v":174},{"p":"K","s":"Venous","t":"Post","v":410},{"p":"K","s":"Venous","t":"Post","v":110},{"p":"K","s":"Venous","t":"Post","v":193},{"p":"K","s":"Venous","t":"Post","v":70},{"p":"K","s":"Venous","t":"Post","v":431},{"p":"K","s":"Venous","t":"Post","v":140},{"p":"K","s":"Venous","t":"Post","v":51},{"p":"K","s":"Venous","t":"Post","v":234},{"p":"K","s":"Venous","t":"Post","v":94},{"p":"K","s":"Venous","t":"Post","v":174},{"p":"K","s":"Venous","t":"Post","v":128},
      {"p":"L","s":"Capillary","t":"Pre","v":2.5},{"p":"L","s":"Capillary","t":"Pre","v":20.2},{"p":"L","s":"Capillary","t":"Pre","v":1.5},{"p":"L","s":"Capillary","t":"Pre","v":8.5},{"p":"L","s":"Capillary","t":"Pre","v":0.5},{"p":"L","s":"Capillary","t":"Pre","v":20.4},{"p":"L","s":"Capillary","t":"Pre","v":2.0},{"p":"L","s":"Capillary","t":"Pre","v":0.3},{"p":"L","s":"Capillary","t":"Pre","v":14.8},{"p":"L","s":"Capillary","t":"Pre","v":1.2},{"p":"L","s":"Capillary","t":"Pre","v":2.8},{"p":"L","s":"Capillary","t":"Pre","v":1.8},
      {"p":"L","s":"Capillary","t":"Post","v":5.8},{"p":"L","s":"Capillary","t":"Post","v":37.1},{"p":"L","s":"Capillary","t":"Post","v":2.2},{"p":"L","s":"Capillary","t":"Post","v":20},{"p":"L","s":"Capillary","t":"Post","v":0.8},{"p":"L","s":"Capillary","t":"Post","v":41},{"p":"L","s":"Capillary","t":"Post","v":3.7},{"p":"L","s":"Capillary","t":"Post","v":0.3},{"p":"L","s":"Capillary","t":"Post","v":25.3},{"p":"L","s":"Capillary","t":"Post","v":2.0},{"p":"L","s":"Capillary","t":"Post","v":7.3},{"p":"L","s":"Capillary","t":"Post","v":3.2},
      {"p":"L","s":"Venous","t":"Pre","v":3.3},{"p":"L","s":"Venous","t":"Pre","v":27.4},{"p":"L","s":"Venous","t":"Pre","v":1.8},{"p":"L","s":"Venous","t":"Pre","v":3.7},{"p":"L","s":"Venous","t":"Pre","v":0.4},{"p":"L","s":"Venous","t":"Pre","v":28.1},{"p":"L","s":"Venous","t":"Pre","v":3.0},{"p":"L","s":"Venous","t":"Pre","v":0.3},{"p":"L","s":"Venous","t":"Pre","v":9.9},{"p":"L","s":"Venous","t":"Pre","v":0.5},{"p":"L","s":"Venous","t":"Pre","v":3.5},{"p":"L","s":"Venous","t":"Pre","v":1.9},
      {"p":"L","s":"Venous","t":"Post","v":2.7},{"p":"L","s":"Venous","t":"Post","v":31},{"p":"L","s":"Venous","t":"Post","v":1.4},{"p":"L","s":"Venous","t":"Post","v":9.4},{"p":"L","s":"Venous","t":"Post","v":0.3},{"p":"L","s":"Venous","t":"Post","v":48.3},{"p":"L","s":"Venous","t":"Post","v":2.5},{"p":"L","s":"Venous","t":"Post","v":0.1},{"p":"L","s":"Venous","t":"Post","v":27.2},{"p":"L","s":"Venous","t":"Post","v":0.6},{"p":"L","s":"Venous","t":"Post","v":3.7},{"p":"L","s":"Venous","t":"Post","v":1.5},
      {"p":"M","s":"Capillary","t":"Pre","v":14},{"p":"M","s":"Capillary","t":"Pre","v":27},{"p":"M","s":"Capillary","t":"Pre","v":6},{"p":"M","s":"Capillary","t":"Pre","v":21},{"p":"M","s":"Capillary","t":"Pre","v":1},{"p":"M","s":"Capillary","t":"Pre","v":70},{"p":"M","s":"Capillary","t":"Pre","v":12},{"p":"M","s":"Capillary","t":"Pre","v":1},{"p":"M","s":"Capillary","t":"Pre","v":24},{"p":"M","s":"Capillary","t":"Pre","v":6},{"p":"M","s":"Capillary","t":"Pre","v":18},{"p":"M","s":"Capillary","t":"Pre","v":12},
      {"p":"M","s":"Capillary","t":"Post","v":32},{"p":"M","s":"Capillary","t":"Post","v":110},{"p":"M","s":"Capillary","t":"Post","v":14},{"p":"M","s":"Capillary","t":"Post","v":45},{"p":"M","s":"Capillary","t":"Post","v":4},{"p":"M","s":"Capillary","t":"Post","v":168},{"p":"M","s":"Capillary","t":"Post","v":25},{"p":"M","s":"Capillary","t":"Post","v":1},{"p":"M","s":"Capillary","t":"Post","v":48},{"p":"M","s":"Capillary","t":"Post","v":8},{"p":"M","s":"Capillary","t":"Post","v":40},{"p":"M","s":"Capillary","t":"Post","v":20},
      {"p":"M","s":"Venous","t":"Pre","v":18},{"p":"M","s":"Venous","t":"Pre","v":34},{"p":"M","s":"Venous","t":"Pre","v":8},{"p":"M","s":"Venous","t":"Pre","v":23},{"p":"M","s":"Venous","t":"Pre","v":3},{"p":"M","s":"Venous","t":"Pre","v":63},{"p":"M","s":"Venous","t":"Pre","v":14},{"p":"M","s":"Venous","t":"Pre","v":1},{"p":"M","s":"Venous","t":"Pre","v":23},{"p":"M","s":"Venous","t":"Pre","v":8},{"p":"M","s":"Venous","t":"Pre","v":20},{"p":"M","s":"Venous","t":"Pre","v":14},
      {"p":"M","s":"Venous","t":"Post","v":28},{"p":"M","s":"Venous","t":"Post","v":70},{"p":"M","s":"Venous","t":"Post","v":14},{"p":"M","s":"Venous","t":"Post","v":32},{"p":"M","s":"Venous","t":"Post","v":4},{"p":"M","s":"Venous","t":"Post","v":111},{"p":"M","s":"Venous","t":"Post","v":23},{"p":"M","s":"Venous","t":"Post","v":2},{"p":"M","s":"Venous","t":"Post","v":42},{"p":"M","s":"Venous","t":"Post","v":8},{"p":"M","s":"Venous","t":"Post","v":32},{"p":"M","s":"Venous","t":"Post","v":18},
      {"p":"N","s":"Capillary","t":"Pre","v":47},{"p":"N","s":"Capillary","t":"Pre","v":85},{"p":"N","s":"Capillary","t":"Pre","v":28},{"p":"N","s":"Capillary","t":"Pre","v":55},{"p":"N","s":"Capillary","t":"Pre","v":18},{"p":"N","s":"Capillary","t":"Pre","v":137},{"p":"N","s":"Capillary","t":"Pre","v":40},{"p":"N","s":"Capillary","t":"Pre","v":4},{"p":"N","s":"Capillary","t":"Pre","v":85},{"p":"N","s":"Capillary","t":"Pre","v":20},{"p":"N","s":"Capillary","t":"Pre","v":52},{"p":"N","s":"Capillary","t":"Pre","v":38},
      {"p":"N","s":"Capillary","t":"Post","v":91},{"p":"N","s":"Capillary","t":"Post","v":259},{"p":"N","s":"Capillary","t":"Post","v":69},{"p":"N","s":"Capillary","t":"Post","v":167},{"p":"N","s":"Capillary","t":"Post","v":52},{"p":"N","s":"Capillary","t":"Post","v":373},{"p":"N","s":"Capillary","t":"Post","v":80},{"p":"N","s":"Capillary","t":"Post","v":14},{"p":"N","s":"Capillary","t":"Post","v":169},{"p":"N","s":"Capillary","t":"Post","v":60},{"p":"N","s":"Capillary","t":"Post","v":139},{"p":"N","s":"Capillary","t":"Post","v":80},
      {"p":"N","s":"Venous","t":"Pre","v":40},{"p":"N","s":"Venous","t":"Pre","v":52},{"p":"N","s":"Venous","t":"Pre","v":25},{"p":"N","s":"Venous","t":"Pre","v":48},{"p":"N","s":"Venous","t":"Pre","v":8},{"p":"N","s":"Venous","t":"Pre","v":170},{"p":"N","s":"Venous","t":"Pre","v":35},{"p":"N","s":"Venous","t":"Pre","v":4},{"p":"N","s":"Venous","t":"Pre","v":52},{"p":"N","s":"Venous","t":"Pre","v":14},{"p":"N","s":"Venous","t":"Pre","v":45},{"p":"N","s":"Venous","t":"Pre","v":32},
      {"p":"N","s":"Venous","t":"Post","v":86},{"p":"N","s":"Venous","t":"Post","v":226},{"p":"N","s":"Venous","t":"Post","v":52},{"p":"N","s":"Venous","t":"Post","v":136},{"p":"N","s":"Venous","t":"Post","v":21},{"p":"N","s":"Venous","t":"Post","v":347},{"p":"N","s":"Venous","t":"Post","v":73},{"p":"N","s":"Venous","t":"Post","v":4},{"p":"N","s":"Venous","t":"Post","v":145},{"p":"N","s":"Venous","t":"Post","v":35},{"p":"N","s":"Venous","t":"Post","v":117},{"p":"N","s":"Venous","t":"Post","v":58},
      {"p":"O","s":"Capillary","t":"Pre","v":7},{"p":"O","s":"Capillary","t":"Pre","v":23},{"p":"O","s":"Capillary","t":"Pre","v":4},{"p":"O","s":"Capillary","t":"Pre","v":9},{"p":"O","s":"Capillary","t":"Pre","v":2},{"p":"O","s":"Capillary","t":"Pre","v":53},{"p":"O","s":"Capillary","t":"Pre","v":6},{"p":"O","s":"Capillary","t":"Pre","v":1},{"p":"O","s":"Capillary","t":"Pre","v":10},{"p":"O","s":"Capillary","t":"Pre","v":3},{"p":"O","s":"Capillary","t":"Pre","v":8},{"p":"O","s":"Capillary","t":"Pre","v":5},
      {"p":"O","s":"Capillary","t":"Post","v":20},{"p":"O","s":"Capillary","t":"Post","v":33},{"p":"O","s":"Capillary","t":"Post","v":9},{"p":"O","s":"Capillary","t":"Post","v":24},{"p":"O","s":"Capillary","t":"Post","v":5},{"p":"O","s":"Capillary","t":"Post","v":218},{"p":"O","s":"Capillary","t":"Post","v":14},{"p":"O","s":"Capillary","t":"Post","v":3},{"p":"O","s":"Capillary","t":"Post","v":28},{"p":"O","s":"Capillary","t":"Post","v":9},{"p":"O","s":"Capillary","t":"Post","v":20},{"p":"O","s":"Capillary","t":"Post","v":12},
      {"p":"O","s":"Venous","t":"Pre","v":8},{"p":"O","s":"Venous","t":"Pre","v":14},{"p":"O","s":"Venous","t":"Pre","v":5},{"p":"O","s":"Venous","t":"Pre","v":10},{"p":"O","s":"Venous","t":"Pre","v":3},{"p":"O","s":"Venous","t":"Pre","v":15},{"p":"O","s":"Venous","t":"Pre","v":7},{"p":"O","s":"Venous","t":"Pre","v":2},{"p":"O","s":"Venous","t":"Pre","v":12},{"p":"O","s":"Venous","t":"Pre","v":4},{"p":"O","s":"Venous","t":"Pre","v":9},{"p":"O","s":"Venous","t":"Pre","v":6},
      {"p":"O","s":"Venous","t":"Post","v":18},{"p":"O","s":"Venous","t":"Post","v":37},{"p":"O","s":"Venous","t":"Post","v":9},{"p":"O","s":"Venous","t":"Post","v":30},{"p":"O","s":"Venous","t":"Post","v":7},{"p":"O","s":"Venous","t":"Post","v":131},{"p":"O","s":"Venous","t":"Post","v":15},{"p":"O","s":"Venous","t":"Post","v":4},{"p":"O","s":"Venous","t":"Post","v":37},{"p":"O","s":"Venous","t":"Post","v":9},{"p":"O","s":"Venous","t":"Post","v":20},{"p":"O","s":"Venous","t":"Post","v":12}
    ],
    "brackets": [
      {"p":"A","b":"A1","s":"Capillary","t":"Pre","o":1,"v":1075},{"p":"A","b":"A1","s":"Capillary","t":"Pre","o":2,"v":1505},{"p":"A","b":"A1","s":"Capillary","t":"Post","o":3,"v":1505},{"p":"A","b":"A1","s":"Capillary","t":"Post","o":4,"v":1435},
      {"p":"A","b":"A2","s":"Venous","t":"Pre","o":1,"v":1139},{"p":"A","b":"A2","s":"Venous","t":"Pre","o":2,"v":1505},{"p":"A","b":"A2","s":"Venous","t":"Post","o":3,"v":1505},{"p":"A","b":"A2","s":"Venous","t":"Post","o":4,"v":1366},
      {"p":"B","b":"B1","s":"Capillary","t":"Pre","o":1,"v":502},{"p":"B","b":"B1","s":"Capillary","t":"Pre","o":2,"v":957},{"p":"B","b":"B1","s":"Capillary","t":"Post","o":3,"v":957},{"p":"B","b":"B1","s":"Capillary","t":"Post","o":4,"v":900},
      {"p":"B","b":"B2","s":"Venous","t":"Pre","o":1,"v":562},{"p":"B","b":"B2","s":"Venous","t":"Pre","o":2,"v":957},{"p":"B","b":"B2","s":"Venous","t":"Post","o":3,"v":957},{"p":"B","b":"B2","s":"Venous","t":"Post","o":4,"v":811},
      {"p":"C","b":"C1","s":"Capillary","t":"Pre","o":1,"v":597},{"p":"C","b":"C1","s":"Capillary","t":"Pre","o":2,"v":812},{"p":"C","b":"C1","s":"Capillary","t":"Post","o":3,"v":812},{"p":"C","b":"C1","s":"Capillary","t":"Post","o":4,"v":775},
      {"p":"C","b":"C2","s":"Venous","t":"Pre","o":1,"v":638},{"p":"C","b":"C2","s":"Venous","t":"Pre","o":2,"v":812},{"p":"C","b":"C2","s":"Venous","t":"Post","o":3,"v":812},{"p":"C","b":"C2","s":"Venous","t":"Post","o":4,"v":741},
      {"p":"D","b":"D1","s":"Capillary","t":"Pre","o":1,"v":152},{"p":"D","b":"D1","s":"Capillary","t":"Pre","o":2,"v":264},{"p":"D","b":"D1","s":"Capillary","t":"Post","o":3,"v":264},{"p":"D","b":"D1","s":"Capillary","t":"Post","o":4,"v":247},
      {"p":"D","b":"D2","s":"Venous","t":"Pre","o":1,"v":155},{"p":"D","b":"D2","s":"Venous","t":"Pre","o":2,"v":264},{"p":"D","b":"D2","s":"Venous","t":"Post","o":3,"v":264},{"p":"D","b":"D2","s":"Venous","t":"Post","o":4,"v":219},
      {"p":"F","b":"F1","s":"Capillary","t":"Pre","o":1,"v":584},{"p":"F","b":"F1","s":"Capillary","t":"Pre","o":2,"v":1677},{"p":"F","b":"F1","s":"Capillary","t":"Post","o":3,"v":1677},{"p":"F","b":"F1","s":"Capillary","t":"Post","o":4,"v":1580},
      {"p":"F","b":"F2","s":"Venous","t":"Pre","o":1,"v":601},{"p":"F","b":"F2","s":"Venous","t":"Pre","o":2,"v":1677},{"p":"F","b":"F2","s":"Venous","t":"Post","o":3,"v":1677},{"p":"F","b":"F2","s":"Venous","t":"Post","o":4,"v":1065},
      {"p":"F","b":"F3","s":"Capillary","t":"Post","o":1,"v":1677},{"p":"F","b":"F3","s":"Capillary","t":"Post","o":2,"v":1958},{"p":"F","b":"F3","s":"Venous","t":"Post","o":3,"v":1958},{"p":"F","b":"F3","s":"Venous","t":"Post","o":4,"v":1677},
      {"p":"G","b":"G1","s":"Capillary","t":"Pre","o":1,"v":200},{"p":"G","b":"G1","s":"Capillary","t":"Pre","o":2,"v":286},{"p":"G","b":"G1","s":"Capillary","t":"Post","o":3,"v":286},{"p":"G","b":"G1","s":"Capillary","t":"Post","o":4,"v":273},
      {"p":"H","b":"H1","s":"Capillary","t":"Pre","o":1,"v":164},{"p":"H","b":"H1","s":"Capillary","t":"Pre","o":2,"v":231},{"p":"H","b":"H1","s":"Capillary","t":"Post","o":3,"v":231},{"p":"H","b":"H1","s":"Capillary","t":"Post","o":4,"v":220},
      {"p":"I","b":"I1","s":"Capillary","t":"Pre","o":1,"v":240},{"p":"I","b":"I1","s":"Capillary","t":"Pre","o":2,"v":1027},{"p":"I","b":"I1","s":"Capillary","t":"Post","o":3,"v":1027},{"p":"I","b":"I1","s":"Capillary","t":"Post","o":4,"v":979},
      {"p":"I","b":"I2","s":"Venous","t":"Pre","o":1,"v":258},{"p":"I","b":"I2","s":"Venous","t":"Pre","o":2,"v":1027},{"p":"I","b":"I2","s":"Venous","t":"Post","o":3,"v":1027},{"p":"I","b":"I2","s":"Venous","t":"Post","o":4,"v":661},
      {"p":"J","b":"J1","s":"Capillary","t":"Pre","o":1,"v":130},{"p":"J","b":"J1","s":"Capillary","t":"Pre","o":2,"v":680},{"p":"J","b":"J1","s":"Capillary","t":"Post","o":3,"v":680},{"p":"J","b":"J1","s":"Capillary","t":"Post","o":4,"v":649},
      {"p":"J","b":"J2","s":"Venous","t":"Pre","o":1,"v":121},{"p":"J","b":"J2","s":"Venous","t":"Pre","o":2,"v":680},{"p":"J","b":"J2","s":"Venous","t":"Post","o":3,"v":680},{"p":"J","b":"J2","s":"Venous","t":"Post","o":4,"v":358},
      {"p":"K","b":"K1","s":"Capillary","t":"Pre","o":1,"v":231},{"p":"K","b":"K1","s":"Capillary","t":"Pre","o":2,"v":890},{"p":"K","b":"K1","s":"Capillary","t":"Post","o":3,"v":890},{"p":"K","b":"K1","s":"Capillary","t":"Post","o":4,"v":846},
      {"p":"K","b":"K2","s":"Venous","t":"Pre","o":1,"v":231},{"p":"K","b":"K2","s":"Venous","t":"Pre","o":2,"v":890},{"p":"K","b":"K2","s":"Venous","t":"Post","o":3,"v":890},{"p":"K","b":"K2","s":"Venous","t":"Post","o":4,"v":470},
      {"p":"L","b":"L1","s":"Capillary","t":"Pre","o":1,"v":22.7},{"p":"L","b":"L1","s":"Capillary","t":"Pre","o":2,"v":53.3},{"p":"L","b":"L1","s":"Capillary","t":"Post","o":3,"v":53.3},{"p":"L","b":"L1","s":"Capillary","t":"Post","o":4,"v":43.3},
      {"p":"M","b":"M1","s":"Capillary","t":"Pre","o":1,"v":78},{"p":"M","b":"M1","s":"Capillary","t":"Pre","o":2,"v":186},{"p":"M","b":"M1","s":"Capillary","t":"Post","o":3,"v":186},{"p":"M","b":"M1","s":"Capillary","t":"Post","o":4,"v":177},
      {"p":"N","b":"N1","s":"Capillary","t":"Pre","o":1,"v":152},{"p":"N","b":"N1","s":"Capillary","t":"Pre","o":2,"v":407},{"p":"N","b":"N1","s":"Capillary","t":"Post","o":3,"v":407},{"p":"N","b":"N1","s":"Capillary","t":"Post","o":4,"v":388},
      {"p":"N","b":"N2","s":"Venous","t":"Pre","o":1,"v":184},{"p":"N","b":"N2","s":"Venous","t":"Pre","o":2,"v":407},{"p":"N","b":"N2","s":"Venous","t":"Post","o":3,"v":407},{"p":"N","b":"N2","s":"Venous","t":"Post","o":4,"v":364}
    ],
    "stars": [
      {"p":"A","s":"Capillary","v":1505,"label":"***"},{"p":"A","s":"Venous","v":1505,"label":"**"},
      {"p":"B","s":"Capillary","v":957,"label":"**"},{"p":"B","s":"Venous","v":957,"label":"*"},
      {"p":"C","s":"Capillary","v":812,"label":"*"},{"p":"C","s":"Venous","v":812,"label":"**"},
      {"p":"D","s":"Capillary","v":264,"label":"***"},{"p":"D","s":"Venous","v":264,"label":"**"},
      {"p":"F","s":"Capillary","v":1677,"label":"****"},{"p":"F","s":"Venous","v":1677,"label":"***"},
      {"p":"G","s":"Capillary","v":286,"label":"*"},
      {"p":"H","s":"Capillary","v":231,"label":"*"},
      {"p":"I","s":"Capillary","v":1027,"label":"****"},{"p":"I","s":"Venous","v":1027,"label":"**"},
      {"p":"J","s":"Capillary","v":680,"label":"**"},{"p":"J","s":"Venous","v":680,"label":"**"},
      {"p":"K","s":"Capillary","v":890,"label":"**"},{"p":"K","s":"Venous","v":890,"label":"*"},
      {"p":"L","s":"Capillary","v":53.3,"label":"*"},
      {"p":"M","s":"Capillary","v":186,"label":"*"},
      {"p":"N","s":"Capillary","v":407,"label":"**"},{"p":"N","s":"Venous","v":407,"label":"**"}
    ],
    "cross": [
      {"p":"F","s":"Venous","t":"Post","v":1958,"label":"*"}
    ]
  },
  "concat": [
    {"width":205,"height":194,"title":{"text":"A.","dx":-56,"offset":-3},
     "encoding":{"x":{"field":"s","type":"nominal","title":null,"sort":["Capillary","Venous"],"scale":{"paddingInner":0.39,"paddingOuter":0.1}},
       "y":{"field":"v","type":"quantitative","scale":{"domain":[0,1500],"nice":false},"axis":{"title":"CD4⁺ (cells/µL)","values":[0,500,1000,1500]}}},
     "layer":[
      {"data":{"name":"summary"},"transform":[{"filter":"datum.p == 'A'"}],"mark":{"type":"rule","strokeWidth":1.5},"encoding":{"xOffset":{"field":"t","type":"nominal","sort":["Pre","Post"],"scale":{"paddingInner":0.36,"paddingOuter":0}},"y2":{"field":"hi"},"color":{"condition":{"test":"datum.t == 'Pre'","value":"#8fc0f2"},"value":"#f7b4b4"}}},
      {"data":{"name":"summary"},"transform":[{"filter":"datum.p == 'A'"}],"mark":{"type":"tick","thickness":1.5,"size":8},"encoding":{"xOffset":{"field":"t","type":"nominal","sort":["Pre","Post"],"scale":{"paddingInner":0.36,"paddingOuter":0}},"y":{"field":"hi","type":"quantitative","scale":{"domain":[0,1500],"nice":false},"title":"CD4⁺ (cells/µL)"},"color":{"condition":{"test":"datum.t == 'Pre'","value":"#8fc0f2"},"value":"#f7b4b4"}}},
      {"data":{"name":"summary"},"transform":[{"filter":"datum.p == 'A'"}],"mark":{"type":"bar","stroke":"black","strokeWidth":2},"encoding":{"xOffset":{"field":"t","type":"nominal","sort":["Pre","Post"],"scale":{"paddingInner":0.36,"paddingOuter":0}},"color":{"field":"t","type":"nominal","scale":{"domain":["Pre","Post"],"range":["#1f7ae0","#f26a6a"]},"legend":{"title":null}}}},
      {"data":{"name":"pts"},"transform":[{"filter":"datum.p == 'A'"},{"window":[{"op":"row_number","as":"id"}],"groupby":["s"],"sort":[{"field":"t","order":"descending"}]}],"mark":{"type":"point","filled":true,"size":50,"stroke":"#222222","strokeWidth":0.9,"opacity":1},"encoding":{"xOffset":{"field":"id","type":"ordinal","scale":{"type":"point","domain":[1,2,3,4,5,6,7,8,9,10,11,12,101,102,103,104,105,106,107,108,109,110,111,112,113,114,13,14,15,16,17,18,19,20,21,22,23,24],"padding":2.75}},"color":{"field":"t","type":"nominal","scale":{"domain":["Pre","Post"],"range":["#1f7ae0","#f26a6a"]},"legend":{"title":null}}}},
      {"data":{"name":"brackets"},"transform":[{"filter":"datum.p == 'A'"}],"mark":{"type":"line","color":"black","strokeWidth":1.5},"encoding":{"xOffset":{"field":"t","type":"nominal","sort":["Pre","Post"],"scale":{"paddingInner":0.36,"paddingOuter":0}},"detail":{"field":"b","type":"nominal"},"order":{"field":"o","type":"quantitative"}}},
      {"data":{"name":"stars"},"transform":[{"filter":"datum.p == 'A'"}],"mark":{"type":"text","fontSize":21,"fontWeight":"bold","baseline":"alphabetic","dy":2},"encoding":{"text":{"field":"label"}}}
     ],
     "resolve":{"scale":{"xOffset":"independent"}}},
    {"width":205,"height":194,"title":{"text":"B.","dx":-97,"offset":5},
     "encoding":{"x":{"field":"s","type":"nominal","title":null,"sort":["Capillary","Venous"],"scale":{"paddingInner":0.39,"paddingOuter":0.1}},
       "y":{"field":"v","type":"quantitative","scale":{"domain":[0,1000],"nice":false},"axis":{"title":"CD4⁺ Naïve (cells/µL)","values":[0,200,400,600,800,1000]}}},
     "layer":[
      {"data":{"name":"summary"},"transform":[{"filter":"datum.p == 'B'"}],"mark":{"type":"rule","strokeWidth":1.5},"encoding":{"xOffset":{"field":"t","type":"nominal","sort":["Pre","Post"],"scale":{"paddingInner":0.36,"paddingOuter":0}},"y2":{"field":"hi"},"color":{"condition":{"test":"datum.t == 'Pre'","value":"#8fc0f2"},"value":"#f7b4b4"}}},
      {"data":{"name":"summary"},"transform":[{"filter":"datum.p == 'B'"}],"mark":{"type":"tick","thickness":1.5,"size":8},"encoding":{"xOffset":{"field":"t","type":"nominal","sort":["Pre","Post"],"scale":{"paddingInner":0.36,"paddingOuter":0}},"y":{"field":"hi","type":"quantitative","scale":{"domain":[0,1000],"nice":false},"title":"CD4⁺ Naïve (cells/µL)"},"color":{"condition":{"test":"datum.t == 'Pre'","value":"#8fc0f2"},"value":"#f7b4b4"}}},
      {"data":{"name":"summary"},"transform":[{"filter":"datum.p == 'B'"}],"mark":{"type":"bar","stroke":"black","strokeWidth":2},"encoding":{"xOffset":{"field":"t","type":"nominal","sort":["Pre","Post"],"scale":{"paddingInner":0.36,"paddingOuter":0}},"color":{"field":"t","type":"nominal","scale":{"domain":["Pre","Post"],"range":["#1f7ae0","#f26a6a"]},"legend":{"title":null}}}},
      {"data":{"name":"pts"},"transform":[{"filter":"datum.p == 'B'"},{"window":[{"op":"row_number","as":"id"}],"groupby":["s"],"sort":[{"field":"t","order":"descending"}]}],"mark":{"type":"point","filled":true,"size":50,"stroke":"#222222","strokeWidth":0.9,"opacity":1},"encoding":{"xOffset":{"field":"id","type":"ordinal","scale":{"type":"point","domain":[1,2,3,4,5,6,7,8,9,10,11,12,101,102,103,104,105,106,107,108,109,110,111,112,113,114,13,14,15,16,17,18,19,20,21,22,23,24],"padding":2.75}},"color":{"field":"t","type":"nominal","scale":{"domain":["Pre","Post"],"range":["#1f7ae0","#f26a6a"]},"legend":{"title":null}}}},
      {"data":{"name":"brackets"},"transform":[{"filter":"datum.p == 'B'"}],"mark":{"type":"line","color":"black","strokeWidth":1.5},"encoding":{"xOffset":{"field":"t","type":"nominal","sort":["Pre","Post"],"scale":{"paddingInner":0.36,"paddingOuter":0}},"detail":{"field":"b","type":"nominal"},"order":{"field":"o","type":"quantitative"}}},
      {"data":{"name":"stars"},"transform":[{"filter":"datum.p == 'B'"}],"mark":{"type":"text","fontSize":21,"fontWeight":"bold","baseline":"alphabetic","dy":2},"encoding":{"text":{"field":"label"}}}
     ],
     "resolve":{"scale":{"xOffset":"independent"}}},
    {"width":205,"height":194,"title":{"text":"C.","dx":-95,"offset":-5},
     "encoding":{"x":{"field":"s","type":"nominal","title":null,"sort":["Capillary","Venous"],"scale":{"paddingInner":0.39,"paddingOuter":0.1}},
       "y":{"field":"v","type":"quantitative","scale":{"domain":[0,800],"nice":false},"axis":{"title":["CD4⁺ Central Memory","(cells/µL)"],"values":[0,200,400,600,800]}}},
     "layer":[
      {"data":{"name":"summary"},"transform":[{"filter":"datum.p == 'C'"}],"mark":{"type":"rule","strokeWidth":1.5},"encoding":{"xOffset":{"field":"t","type":"nominal","sort":["Pre","Post"],"scale":{"paddingInner":0.36,"paddingOuter":0}},"y2":{"field":"hi"},"color":{"condition":{"test":"datum.t == 'Pre'","value":"#8fc0f2"},"value":"#f7b4b4"}}},
      {"data":{"name":"summary"},"transform":[{"filter":"datum.p == 'C'"}],"mark":{"type":"tick","thickness":1.5,"size":8},"encoding":{"xOffset":{"field":"t","type":"nominal","sort":["Pre","Post"],"scale":{"paddingInner":0.36,"paddingOuter":0}},"y":{"field":"hi","type":"quantitative","scale":{"domain":[0,800],"nice":false},"title":["CD4⁺ Central Memory","(cells/µL)"]},"color":{"condition":{"test":"datum.t == 'Pre'","value":"#8fc0f2"},"value":"#f7b4b4"}}},
      {"data":{"name":"summary"},"transform":[{"filter":"datum.p == 'C'"}],"mark":{"type":"bar","stroke":"black","strokeWidth":2},"encoding":{"xOffset":{"field":"t","type":"nominal","sort":["Pre","Post"],"scale":{"paddingInner":0.36,"paddingOuter":0}},"color":{"field":"t","type":"nominal","scale":{"domain":["Pre","Post"],"range":["#1f7ae0","#f26a6a"]},"legend":{"title":null}}}},
      {"data":{"name":"pts"},"transform":[{"filter":"datum.p == 'C'"},{"window":[{"op":"row_number","as":"id"}],"groupby":["s"],"sort":[{"field":"t","order":"descending"}]}],"mark":{"type":"point","filled":true,"size":50,"stroke":"#222222","strokeWidth":0.9,"opacity":1},"encoding":{"xOffset":{"field":"id","type":"ordinal","scale":{"type":"point","domain":[1,2,3,4,5,6,7,8,9,10,11,12,101,102,103,104,105,106,107,108,109,110,111,112,113,114,13,14,15,16,17,18,19,20,21,22,23,24],"padding":2.75}},"color":{"field":"t","type":"nominal","scale":{"domain":["Pre","Post"],"range":["#1f7ae0","#f26a6a"]},"legend":{"title":null}}}},
      {"data":{"name":"brackets"},"transform":[{"filter":"datum.p == 'C'"}],"mark":{"type":"line","color":"black","strokeWidth":1.5},"encoding":{"xOffset":{"field":"t","type":"nominal","sort":["Pre","Post"],"scale":{"paddingInner":0.36,"paddingOuter":0}},"detail":{"field":"b","type":"nominal"},"order":{"field":"o","type":"quantitative"}}},
      {"data":{"name":"stars"},"transform":[{"filter":"datum.p == 'C'"}],"mark":{"type":"text","fontSize":21,"fontWeight":"bold","baseline":"alphabetic","dy":2},"encoding":{"text":{"field":"label"}}}
     ],
     "resolve":{"scale":{"xOffset":"independent"}}},
    {"width":205,"height":194,"title":{"text":"D.","dx":-56,"offset":15},
     "encoding":{"x":{"field":"s","type":"nominal","title":null,"sort":["Capillary","Venous"],"scale":{"paddingInner":0.39,"paddingOuter":0.1}},
       "y":{"field":"v","type":"quantitative","scale":{"domain":[0,300],"nice":false},"axis":{"title":["CD4⁺ Effector Memory","(cells/µL)"],"values":[0,100,200,300]}}},
     "layer":[
      {"data":{"name":"summary"},"transform":[{"filter":"datum.p == 'D'"}],"mark":{"type":"rule","strokeWidth":1.5},"encoding":{"xOffset":{"field":"t","type":"nominal","sort":["Pre","Post"],"scale":{"paddingInner":0.36,"paddingOuter":0}},"y2":{"field":"hi"},"color":{"condition":{"test":"datum.t == 'Pre'","value":"#8fc0f2"},"value":"#f7b4b4"}}},
      {"data":{"name":"summary"},"transform":[{"filter":"datum.p == 'D'"}],"mark":{"type":"tick","thickness":1.5,"size":8},"encoding":{"xOffset":{"field":"t","type":"nominal","sort":["Pre","Post"],"scale":{"paddingInner":0.36,"paddingOuter":0}},"y":{"field":"hi","type":"quantitative","scale":{"domain":[0,300],"nice":false},"title":["CD4⁺ Effector Memory","(cells/µL)"]},"color":{"condition":{"test":"datum.t == 'Pre'","value":"#8fc0f2"},"value":"#f7b4b4"}}},
      {"data":{"name":"summary"},"transform":[{"filter":"datum.p == 'D'"}],"mark":{"type":"bar","stroke":"black","strokeWidth":2},"encoding":{"xOffset":{"field":"t","type":"nominal","sort":["Pre","Post"],"scale":{"paddingInner":0.36,"paddingOuter":0}},"color":{"field":"t","type":"nominal","scale":{"domain":["Pre","Post"],"range":["#1f7ae0","#f26a6a"]},"legend":{"title":null}}}},
      {"data":{"name":"pts"},"transform":[{"filter":"datum.p == 'D'"},{"window":[{"op":"row_number","as":"id"}],"groupby":["s"],"sort":[{"field":"t","order":"descending"}]}],"mark":{"type":"point","filled":true,"size":50,"stroke":"#222222","strokeWidth":0.9,"opacity":1},"encoding":{"xOffset":{"field":"id","type":"ordinal","scale":{"type":"point","domain":[1,2,3,4,5,6,7,8,9,10,11,12,101,102,103,104,105,106,107,108,109,110,111,112,113,114,13,14,15,16,17,18,19,20,21,22,23,24],"padding":2.75}},"color":{"field":"t","type":"nominal","scale":{"domain":["Pre","Post"],"range":["#1f7ae0","#f26a6a"]},"legend":{"title":null}}}},
      {"data":{"name":"brackets"},"transform":[{"filter":"datum.p == 'D'"}],"mark":{"type":"line","color":"black","strokeWidth":1.5},"encoding":{"xOffset":{"field":"t","type":"nominal","sort":["Pre","Post"],"scale":{"paddingInner":0.36,"paddingOuter":0}},"detail":{"field":"b","type":"nominal"},"order":{"field":"o","type":"quantitative"}}},
      {"data":{"name":"stars"},"transform":[{"filter":"datum.p == 'D'"}],"mark":{"type":"text","fontSize":21,"fontWeight":"bold","baseline":"alphabetic","dy":2},"encoding":{"text":{"field":"label"}}}
     ],
     "resolve":{"scale":{"xOffset":"independent"}}},
    {"width":205,"height":194,"title":{"text":"E.","dx":-97,"offset":15},
     "encoding":{"x":{"field":"s","type":"nominal","title":null,"sort":["Capillary","Venous"],"scale":{"paddingInner":0.39,"paddingOuter":0.1}},
       "y":{"field":"v","type":"quantitative","scale":{"domain":[0,60],"nice":false},"axis":{"title":"CD4⁺ TEMRA (cells/µL)","values":[0,20,40,60]}}},
     "layer":[
      {"data":{"name":"summary"},"transform":[{"filter":"datum.p == 'E'"}],"mark":{"type":"rule","strokeWidth":1.5},"encoding":{"xOffset":{"field":"t","type":"nominal","sort":["Pre","Post"],"scale":{"paddingInner":0.36,"paddingOuter":0}},"y2":{"field":"hi"},"color":{"condition":{"test":"datum.t == 'Pre'","value":"#8fc0f2"},"value":"#f7b4b4"}}},
      {"data":{"name":"summary"},"transform":[{"filter":"datum.p == 'E'"}],"mark":{"type":"tick","thickness":1.5,"size":8},"encoding":{"xOffset":{"field":"t","type":"nominal","sort":["Pre","Post"],"scale":{"paddingInner":0.36,"paddingOuter":0}},"y":{"field":"hi","type":"quantitative","scale":{"domain":[0,60],"nice":false},"title":"CD4⁺ TEMRA (cells/µL)"},"color":{"condition":{"test":"datum.t == 'Pre'","value":"#8fc0f2"},"value":"#f7b4b4"}}},
      {"data":{"name":"summary"},"transform":[{"filter":"datum.p == 'E'"}],"mark":{"type":"bar","stroke":"black","strokeWidth":2},"encoding":{"xOffset":{"field":"t","type":"nominal","sort":["Pre","Post"],"scale":{"paddingInner":0.36,"paddingOuter":0}},"color":{"field":"t","type":"nominal","scale":{"domain":["Pre","Post"],"range":["#1f7ae0","#f26a6a"]},"legend":{"title":null}}}},
      {"data":{"name":"pts"},"transform":[{"filter":"datum.p == 'E'"},{"window":[{"op":"row_number","as":"id"}],"groupby":["s"],"sort":[{"field":"t","order":"descending"}]}],"mark":{"type":"point","filled":true,"size":50,"stroke":"#222222","strokeWidth":0.9,"opacity":1},"encoding":{"xOffset":{"field":"id","type":"ordinal","scale":{"type":"point","domain":[1,2,3,4,5,6,7,8,9,10,11,12,101,102,103,104,105,106,107,108,109,110,111,112,113,114,13,14,15,16,17,18,19,20,21,22,23,24],"padding":2.75}},"color":{"field":"t","type":"nominal","scale":{"domain":["Pre","Post"],"range":["#1f7ae0","#f26a6a"]},"legend":{"title":null}}}}
     ],
     "resolve":{"scale":{"xOffset":"independent"}}},
    {"width":205,"height":194,"title":{"text":"F.","dx":-95,"offset":12},
     "encoding":{"x":{"field":"s","type":"nominal","title":null,"sort":["Capillary","Venous"],"scale":{"paddingInner":0.39,"paddingOuter":0.1}},
       "y":{"field":"v","type":"quantitative","scale":{"domain":[0,2000],"nice":false},"axis":{"title":"CD8⁺ (cells/µL)","values":[0,500,1000,1500,2000]}}},
     "layer":[
      {"data":{"name":"summary"},"transform":[{"filter":"datum.p == 'F'"}],"mark":{"type":"rule","strokeWidth":1.5},"encoding":{"xOffset":{"field":"t","type":"nominal","sort":["Pre","Post"],"scale":{"paddingInner":0.36,"paddingOuter":0}},"y2":{"field":"hi"},"color":{"condition":{"test":"datum.t == 'Pre'","value":"#8fc0f2"},"value":"#f7b4b4"}}},
      {"data":{"name":"summary"},"transform":[{"filter":"datum.p == 'F'"}],"mark":{"type":"tick","thickness":1.5,"size":8},"encoding":{"xOffset":{"field":"t","type":"nominal","sort":["Pre","Post"],"scale":{"paddingInner":0.36,"paddingOuter":0}},"y":{"field":"hi","type":"quantitative","scale":{"domain":[0,2000],"nice":false},"title":"CD8⁺ (cells/µL)"},"color":{"condition":{"test":"datum.t == 'Pre'","value":"#8fc0f2"},"value":"#f7b4b4"}}},
      {"data":{"name":"summary"},"transform":[{"filter":"datum.p == 'F'"}],"mark":{"type":"bar","stroke":"black","strokeWidth":2},"encoding":{"xOffset":{"field":"t","type":"nominal","sort":["Pre","Post"],"scale":{"paddingInner":0.36,"paddingOuter":0}},"color":{"field":"t","type":"nominal","scale":{"domain":["Pre","Post"],"range":["#1f7ae0","#f26a6a"]},"legend":{"title":null}}}},
      {"data":{"name":"pts"},"transform":[{"filter":"datum.p == 'F'"},{"window":[{"op":"row_number","as":"id"}],"groupby":["s"],"sort":[{"field":"t","order":"descending"}]}],"mark":{"type":"point","filled":true,"size":50,"stroke":"#222222","strokeWidth":0.9,"opacity":1},"encoding":{"xOffset":{"field":"id","type":"ordinal","scale":{"type":"point","domain":[1,2,3,4,5,6,7,8,9,10,11,12,101,102,103,104,105,106,107,108,109,110,111,112,113,114,13,14,15,16,17,18,19,20,21,22,23,24],"padding":2.75}},"color":{"field":"t","type":"nominal","scale":{"domain":["Pre","Post"],"range":["#1f7ae0","#f26a6a"]},"legend":{"title":null}}}},
      {"data":{"name":"brackets"},"transform":[{"filter":"datum.p == 'F'"}],"mark":{"type":"line","color":"black","strokeWidth":1.5},"encoding":{"xOffset":{"field":"t","type":"nominal","sort":["Pre","Post"],"scale":{"paddingInner":0.36,"paddingOuter":0}},"detail":{"field":"b","type":"nominal"},"order":{"field":"o","type":"quantitative"}}},
      {"data":{"name":"stars"},"transform":[{"filter":"datum.p == 'F'"}],"mark":{"type":"text","fontSize":21,"fontWeight":"bold","baseline":"alphabetic","dy":2},"encoding":{"text":{"field":"label"}}},
      {"data":{"name":"cross"},"transform":[{"filter":"datum.p == 'F'"}],"mark":{"type":"text","fontSize":21,"fontWeight":"bold","baseline":"alphabetic","dy":2,"dx":-56.6},"encoding":{"xOffset":{"field":"t","type":"nominal","sort":["Pre","Post"],"scale":{"paddingInner":0.36,"paddingOuter":0}},"text":{"field":"label"}}}
     ],
     "resolve":{"scale":{"xOffset":"independent"}}},
    {"width":205,"height":194,"title":{"text":"G.","dx":-56,"offset":14},
     "encoding":{"x":{"field":"s","type":"nominal","title":null,"sort":["Capillary","Venous"],"scale":{"paddingInner":0.39,"paddingOuter":0.1}},
       "y":{"field":"v","type":"quantitative","scale":{"domain":[0,300],"nice":false},"axis":{"title":"CD8⁺ Naïve (cells/µL)","values":[0,100,200,300]}}},
     "layer":[
      {"data":{"name":"summary"},"transform":[{"filter":"datum.p == 'G'"}],"mark":{"type":"rule","strokeWidth":1.5},"encoding":{"xOffset":{"field":"t","type":"nominal","sort":["Pre","Post"],"scale":{"paddingInner":0.36,"paddingOuter":0}},"y2":{"field":"hi"},"color":{"condition":{"test":"datum.t == 'Pre'","value":"#8fc0f2"},"value":"#f7b4b4"}}},
      {"data":{"name":"summary"},"transform":[{"filter":"datum.p == 'G'"}],"mark":{"type":"tick","thickness":1.5,"size":8},"encoding":{"xOffset":{"field":"t","type":"nominal","sort":["Pre","Post"],"scale":{"paddingInner":0.36,"paddingOuter":0}},"y":{"field":"hi","type":"quantitative","scale":{"domain":[0,300],"nice":false},"title":"CD8⁺ Naïve (cells/µL)"},"color":{"condition":{"test":"datum.t == 'Pre'","value":"#8fc0f2"},"value":"#f7b4b4"}}},
      {"data":{"name":"summary"},"transform":[{"filter":"datum.p == 'G'"}],"mark":{"type":"bar","stroke":"black","strokeWidth":2},"encoding":{"xOffset":{"field":"t","type":"nominal","sort":["Pre","Post"],"scale":{"paddingInner":0.36,"paddingOuter":0}},"color":{"field":"t","type":"nominal","scale":{"domain":["Pre","Post"],"range":["#1f7ae0","#f26a6a"]},"legend":{"title":null}}}},
      {"data":{"name":"pts"},"transform":[{"filter":"datum.p == 'G'"},{"window":[{"op":"row_number","as":"id"}],"groupby":["s"],"sort":[{"field":"t","order":"descending"}]}],"mark":{"type":"point","filled":true,"size":50,"stroke":"#222222","strokeWidth":0.9,"opacity":1},"encoding":{"xOffset":{"field":"id","type":"ordinal","scale":{"type":"point","domain":[1,2,3,4,5,6,7,8,9,10,11,12,101,102,103,104,105,106,107,108,109,110,111,112,113,114,13,14,15,16,17,18,19,20,21,22,23,24],"padding":2.75}},"color":{"field":"t","type":"nominal","scale":{"domain":["Pre","Post"],"range":["#1f7ae0","#f26a6a"]},"legend":{"title":null}}}},
      {"data":{"name":"brackets"},"transform":[{"filter":"datum.p == 'G'"}],"mark":{"type":"line","color":"black","strokeWidth":1.5},"encoding":{"xOffset":{"field":"t","type":"nominal","sort":["Pre","Post"],"scale":{"paddingInner":0.36,"paddingOuter":0}},"detail":{"field":"b","type":"nominal"},"order":{"field":"o","type":"quantitative"}}},
      {"data":{"name":"stars"},"transform":[{"filter":"datum.p == 'G'"}],"mark":{"type":"text","fontSize":21,"fontWeight":"bold","baseline":"alphabetic","dy":2},"encoding":{"text":{"field":"label"}}}
     ],
     "resolve":{"scale":{"xOffset":"independent"}}},
    {"width":205,"height":194,"title":{"text":"H.","dx":-97,"offset":14},
     "encoding":{"x":{"field":"s","type":"nominal","title":null,"sort":["Capillary","Venous"],"scale":{"paddingInner":0.39,"paddingOuter":0.1}},
       "y":{"field":"v","type":"quantitative","scale":{"domain":[0,250],"nice":false},"axis":{"title":["CD8⁺ Central Memory","(cells/µL)"],"values":[0,50,100,150,200,250]}}},
     "layer":[
      {"data":{"name":"summary"},"transform":[{"filter":"datum.p == 'H'"}],"mark":{"type":"rule","strokeWidth":1.5},"encoding":{"xOffset":{"field":"t","type":"nominal","sort":["Pre","Post"],"scale":{"paddingInner":0.36,"paddingOuter":0}},"y2":{"field":"hi"},"color":{"condition":{"test":"datum.t == 'Pre'","value":"#8fc0f2"},"value":"#f7b4b4"}}},
      {"data":{"name":"summary"},"transform":[{"filter":"datum.p == 'H'"}],"mark":{"type":"tick","thickness":1.5,"size":8},"encoding":{"xOffset":{"field":"t","type":"nominal","sort":["Pre","Post"],"scale":{"paddingInner":0.36,"paddingOuter":0}},"y":{"field":"hi","type":"quantitative","scale":{"domain":[0,250],"nice":false},"title":["CD8⁺ Central Memory","(cells/µL)"]},"color":{"condition":{"test":"datum.t == 'Pre'","value":"#8fc0f2"},"value":"#f7b4b4"}}},
      {"data":{"name":"summary"},"transform":[{"filter":"datum.p == 'H'"}],"mark":{"type":"bar","stroke":"black","strokeWidth":2},"encoding":{"xOffset":{"field":"t","type":"nominal","sort":["Pre","Post"],"scale":{"paddingInner":0.36,"paddingOuter":0}},"color":{"field":"t","type":"nominal","scale":{"domain":["Pre","Post"],"range":["#1f7ae0","#f26a6a"]},"legend":{"title":null}}}},
      {"data":{"name":"pts"},"transform":[{"filter":"datum.p == 'H'"},{"window":[{"op":"row_number","as":"id"}],"groupby":["s"],"sort":[{"field":"t","order":"descending"}]}],"mark":{"type":"point","filled":true,"size":50,"stroke":"#222222","strokeWidth":0.9,"opacity":1},"encoding":{"xOffset":{"field":"id","type":"ordinal","scale":{"type":"point","domain":[1,2,3,4,5,6,7,8,9,10,11,12,101,102,103,104,105,106,107,108,109,110,111,112,113,114,13,14,15,16,17,18,19,20,21,22,23,24],"padding":2.75}},"color":{"field":"t","type":"nominal","scale":{"domain":["Pre","Post"],"range":["#1f7ae0","#f26a6a"]},"legend":{"title":null}}}},
      {"data":{"name":"brackets"},"transform":[{"filter":"datum.p == 'H'"}],"mark":{"type":"line","color":"black","strokeWidth":1.5},"encoding":{"xOffset":{"field":"t","type":"nominal","sort":["Pre","Post"],"scale":{"paddingInner":0.36,"paddingOuter":0}},"detail":{"field":"b","type":"nominal"},"order":{"field":"o","type":"quantitative"}}},
      {"data":{"name":"stars"},"transform":[{"filter":"datum.p == 'H'"}],"mark":{"type":"text","fontSize":21,"fontWeight":"bold","baseline":"alphabetic","dy":2},"encoding":{"text":{"field":"label"}}}
     ],
     "resolve":{"scale":{"xOffset":"independent"}}},
    {"width":205,"height":194,"title":{"text":"I.","dx":-95,"offset":2},
     "encoding":{"x":{"field":"s","type":"nominal","title":null,"sort":["Capillary","Venous"],"scale":{"paddingInner":0.39,"paddingOuter":0.1}},
       "y":{"field":"v","type":"quantitative","scale":{"domain":[0,1000],"nice":false},"axis":{"title":["CD8⁺ Effector Memory","(cells/µL)"],"values":[0,200,400,600,800,1000]}}},
     "layer":[
      {"data":{"name":"summary"},"transform":[{"filter":"datum.p == 'I'"}],"mark":{"type":"rule","strokeWidth":1.5},"encoding":{"xOffset":{"field":"t","type":"nominal","sort":["Pre","Post"],"scale":{"paddingInner":0.36,"paddingOuter":0}},"y2":{"field":"hi"},"color":{"condition":{"test":"datum.t == 'Pre'","value":"#8fc0f2"},"value":"#f7b4b4"}}},
      {"data":{"name":"summary"},"transform":[{"filter":"datum.p == 'I'"}],"mark":{"type":"tick","thickness":1.5,"size":8},"encoding":{"xOffset":{"field":"t","type":"nominal","sort":["Pre","Post"],"scale":{"paddingInner":0.36,"paddingOuter":0}},"y":{"field":"hi","type":"quantitative","scale":{"domain":[0,1000],"nice":false},"title":["CD8⁺ Effector Memory","(cells/µL)"]},"color":{"condition":{"test":"datum.t == 'Pre'","value":"#8fc0f2"},"value":"#f7b4b4"}}},
      {"data":{"name":"summary"},"transform":[{"filter":"datum.p == 'I'"}],"mark":{"type":"bar","stroke":"black","strokeWidth":2},"encoding":{"xOffset":{"field":"t","type":"nominal","sort":["Pre","Post"],"scale":{"paddingInner":0.36,"paddingOuter":0}},"color":{"field":"t","type":"nominal","scale":{"domain":["Pre","Post"],"range":["#1f7ae0","#f26a6a"]},"legend":{"title":null}}}},
      {"data":{"name":"pts"},"transform":[{"filter":"datum.p == 'I'"},{"window":[{"op":"row_number","as":"id"}],"groupby":["s"],"sort":[{"field":"t","order":"descending"}]}],"mark":{"type":"point","filled":true,"size":50,"stroke":"#222222","strokeWidth":0.9,"opacity":1},"encoding":{"xOffset":{"field":"id","type":"ordinal","scale":{"type":"point","domain":[1,2,3,4,5,6,7,8,9,10,11,12,101,102,103,104,105,106,107,108,109,110,111,112,113,114,13,14,15,16,17,18,19,20,21,22,23,24],"padding":2.75}},"color":{"field":"t","type":"nominal","scale":{"domain":["Pre","Post"],"range":["#1f7ae0","#f26a6a"]},"legend":{"title":null}}}},
      {"data":{"name":"brackets"},"transform":[{"filter":"datum.p == 'I'"}],"mark":{"type":"line","color":"black","strokeWidth":1.5},"encoding":{"xOffset":{"field":"t","type":"nominal","sort":["Pre","Post"],"scale":{"paddingInner":0.36,"paddingOuter":0}},"detail":{"field":"b","type":"nominal"},"order":{"field":"o","type":"quantitative"}}},
      {"data":{"name":"stars"},"transform":[{"filter":"datum.p == 'I'"}],"mark":{"type":"text","fontSize":21,"fontWeight":"bold","baseline":"alphabetic","dy":2},"encoding":{"text":{"field":"label"}}}
     ],
     "resolve":{"scale":{"xOffset":"independent"}}},
    {"width":205,"height":194,"title":{"text":"J.","dx":-56,"offset":30},
     "encoding":{"x":{"field":"s","type":"nominal","title":null,"sort":["Capillary","Venous"],"scale":{"paddingInner":0.39,"paddingOuter":0.1}},
       "y":{"field":"v","type":"quantitative","scale":{"domain":[0,800],"nice":false},"axis":{"title":"CD8⁺ TEMRA(cells/µL)","values":[0,200,400,600,800]}}},
     "layer":[
      {"data":{"name":"summary"},"transform":[{"filter":"datum.p == 'J'"}],"mark":{"type":"rule","strokeWidth":1.5},"encoding":{"xOffset":{"field":"t","type":"nominal","sort":["Pre","Post"],"scale":{"paddingInner":0.36,"paddingOuter":0}},"y2":{"field":"hi"},"color":{"condition":{"test":"datum.t == 'Pre'","value":"#8fc0f2"},"value":"#f7b4b4"}}},
      {"data":{"name":"summary"},"transform":[{"filter":"datum.p == 'J'"}],"mark":{"type":"tick","thickness":1.5,"size":8},"encoding":{"xOffset":{"field":"t","type":"nominal","sort":["Pre","Post"],"scale":{"paddingInner":0.36,"paddingOuter":0}},"y":{"field":"hi","type":"quantitative","scale":{"domain":[0,800],"nice":false},"title":"CD8⁺ TEMRA(cells/µL)"},"color":{"condition":{"test":"datum.t == 'Pre'","value":"#8fc0f2"},"value":"#f7b4b4"}}},
      {"data":{"name":"summary"},"transform":[{"filter":"datum.p == 'J'"}],"mark":{"type":"bar","stroke":"black","strokeWidth":2},"encoding":{"xOffset":{"field":"t","type":"nominal","sort":["Pre","Post"],"scale":{"paddingInner":0.36,"paddingOuter":0}},"color":{"field":"t","type":"nominal","scale":{"domain":["Pre","Post"],"range":["#1f7ae0","#f26a6a"]},"legend":{"title":null}}}},
      {"data":{"name":"pts"},"transform":[{"filter":"datum.p == 'J'"},{"window":[{"op":"row_number","as":"id"}],"groupby":["s"],"sort":[{"field":"t","order":"descending"}]}],"mark":{"type":"point","filled":true,"size":50,"stroke":"#222222","strokeWidth":0.9,"opacity":1},"encoding":{"xOffset":{"field":"id","type":"ordinal","scale":{"type":"point","domain":[1,2,3,4,5,6,7,8,9,10,11,12,101,102,103,104,105,106,107,108,109,110,111,112,113,114,13,14,15,16,17,18,19,20,21,22,23,24],"padding":2.75}},"color":{"field":"t","type":"nominal","scale":{"domain":["Pre","Post"],"range":["#1f7ae0","#f26a6a"]},"legend":{"title":null}}}},
      {"data":{"name":"brackets"},"transform":[{"filter":"datum.p == 'J'"}],"mark":{"type":"line","color":"black","strokeWidth":1.5},"encoding":{"xOffset":{"field":"t","type":"nominal","sort":["Pre","Post"],"scale":{"paddingInner":0.36,"paddingOuter":0}},"detail":{"field":"b","type":"nominal"},"order":{"field":"o","type":"quantitative"}}},
      {"data":{"name":"stars"},"transform":[{"filter":"datum.p == 'J'"}],"mark":{"type":"text","fontSize":21,"fontWeight":"bold","baseline":"alphabetic","dy":2},"encoding":{"text":{"field":"label"}}}
     ],
     "resolve":{"scale":{"xOffset":"independent"}}},
    {"width":205,"height":194,"title":{"text":"K.","dx":-97,"offset":30},
     "encoding":{"x":{"field":"s","type":"nominal","title":null,"sort":["Capillary","Venous"],"scale":{"paddingInner":0.39,"paddingOuter":0.1}},
       "y":{"field":"v","type":"quantitative","scale":{"domain":[0,1000],"nice":false},"axis":{"title":"G/D (cells/µL)","values":[0,200,400,600,800,1000]}}},
     "layer":[
      {"data":{"name":"summary"},"transform":[{"filter":"datum.p == 'K'"}],"mark":{"type":"rule","strokeWidth":1.5},"encoding":{"xOffset":{"field":"t","type":"nominal","sort":["Pre","Post"],"scale":{"paddingInner":0.36,"paddingOuter":0}},"y2":{"field":"hi"},"color":{"condition":{"test":"datum.t == 'Pre'","value":"#8fc0f2"},"value":"#f7b4b4"}}},
      {"data":{"name":"summary"},"transform":[{"filter":"datum.p == 'K'"}],"mark":{"type":"tick","thickness":1.5,"size":8},"encoding":{"xOffset":{"field":"t","type":"nominal","sort":["Pre","Post"],"scale":{"paddingInner":0.36,"paddingOuter":0}},"y":{"field":"hi","type":"quantitative","scale":{"domain":[0,1000],"nice":false},"title":"G/D (cells/µL)"},"color":{"condition":{"test":"datum.t == 'Pre'","value":"#8fc0f2"},"value":"#f7b4b4"}}},
      {"data":{"name":"summary"},"transform":[{"filter":"datum.p == 'K'"}],"mark":{"type":"bar","stroke":"black","strokeWidth":2},"encoding":{"xOffset":{"field":"t","type":"nominal","sort":["Pre","Post"],"scale":{"paddingInner":0.36,"paddingOuter":0}},"color":{"field":"t","type":"nominal","scale":{"domain":["Pre","Post"],"range":["#1f7ae0","#f26a6a"]},"legend":{"title":null}}}},
      {"data":{"name":"pts"},"transform":[{"filter":"datum.p == 'K'"},{"window":[{"op":"row_number","as":"id"}],"groupby":["s"],"sort":[{"field":"t","order":"descending"}]}],"mark":{"type":"point","filled":true,"size":50,"stroke":"#222222","strokeWidth":0.9,"opacity":1},"encoding":{"xOffset":{"field":"id","type":"ordinal","scale":{"type":"point","domain":[1,2,3,4,5,6,7,8,9,10,11,12,101,102,103,104,105,106,107,108,109,110,111,112,113,114,13,14,15,16,17,18,19,20,21,22,23,24],"padding":2.75}},"color":{"field":"t","type":"nominal","scale":{"domain":["Pre","Post"],"range":["#1f7ae0","#f26a6a"]},"legend":{"title":null}}}},
      {"data":{"name":"brackets"},"transform":[{"filter":"datum.p == 'K'"}],"mark":{"type":"line","color":"black","strokeWidth":1.5},"encoding":{"xOffset":{"field":"t","type":"nominal","sort":["Pre","Post"],"scale":{"paddingInner":0.36,"paddingOuter":0}},"detail":{"field":"b","type":"nominal"},"order":{"field":"o","type":"quantitative"}}},
      {"data":{"name":"stars"},"transform":[{"filter":"datum.p == 'K'"}],"mark":{"type":"text","fontSize":21,"fontWeight":"bold","baseline":"alphabetic","dy":2},"encoding":{"text":{"field":"label"}}}
     ],
     "resolve":{"scale":{"xOffset":"independent"}}},
    {"width":205,"height":194,"title":{"text":"L.","dx":-95,"offset":30},
     "encoding":{"x":{"field":"s","type":"nominal","title":null,"sort":["Capillary","Venous"],"scale":{"paddingInner":0.39,"paddingOuter":0.1}},
       "y":{"field":"v","type":"quantitative","scale":{"domain":[0,60],"nice":false},"axis":{"title":"G/D Naïve (cells/µL)","values":[0,20,40,60]}}},
     "layer":[
      {"data":{"name":"summary"},"transform":[{"filter":"datum.p == 'L'"}],"mark":{"type":"rule","strokeWidth":1.5},"encoding":{"xOffset":{"field":"t","type":"nominal","sort":["Pre","Post"],"scale":{"paddingInner":0.36,"paddingOuter":0}},"y2":{"field":"hi"},"color":{"condition":{"test":"datum.t == 'Pre'","value":"#8fc0f2"},"value":"#f7b4b4"}}},
      {"data":{"name":"summary"},"transform":[{"filter":"datum.p == 'L'"}],"mark":{"type":"tick","thickness":1.5,"size":8},"encoding":{"xOffset":{"field":"t","type":"nominal","sort":["Pre","Post"],"scale":{"paddingInner":0.36,"paddingOuter":0}},"y":{"field":"hi","type":"quantitative","scale":{"domain":[0,60],"nice":false},"title":"G/D Naïve (cells/µL)"},"color":{"condition":{"test":"datum.t == 'Pre'","value":"#8fc0f2"},"value":"#f7b4b4"}}},
      {"data":{"name":"summary"},"transform":[{"filter":"datum.p == 'L'"}],"mark":{"type":"bar","stroke":"black","strokeWidth":2},"encoding":{"xOffset":{"field":"t","type":"nominal","sort":["Pre","Post"],"scale":{"paddingInner":0.36,"paddingOuter":0}},"color":{"field":"t","type":"nominal","scale":{"domain":["Pre","Post"],"range":["#1f7ae0","#f26a6a"]},"legend":{"title":null}}}},
      {"data":{"name":"pts"},"transform":[{"filter":"datum.p == 'L'"},{"window":[{"op":"row_number","as":"id"}],"groupby":["s"],"sort":[{"field":"t","order":"descending"}]}],"mark":{"type":"point","filled":true,"size":50,"stroke":"#222222","strokeWidth":0.9,"opacity":1},"encoding":{"xOffset":{"field":"id","type":"ordinal","scale":{"type":"point","domain":[1,2,3,4,5,6,7,8,9,10,11,12,101,102,103,104,105,106,107,108,109,110,111,112,113,114,13,14,15,16,17,18,19,20,21,22,23,24],"padding":2.75}},"color":{"field":"t","type":"nominal","scale":{"domain":["Pre","Post"],"range":["#1f7ae0","#f26a6a"]},"legend":{"title":null}}}},
      {"data":{"name":"brackets"},"transform":[{"filter":"datum.p == 'L'"}],"mark":{"type":"line","color":"black","strokeWidth":1.5},"encoding":{"xOffset":{"field":"t","type":"nominal","sort":["Pre","Post"],"scale":{"paddingInner":0.36,"paddingOuter":0}},"detail":{"field":"b","type":"nominal"},"order":{"field":"o","type":"quantitative"}}},
      {"data":{"name":"stars"},"transform":[{"filter":"datum.p == 'L'"}],"mark":{"type":"text","fontSize":21,"fontWeight":"bold","baseline":"alphabetic","dy":2},"encoding":{"text":{"field":"label"}}}
     ],
     "resolve":{"scale":{"xOffset":"independent"}}},
    {"width":205,"height":194,"title":{"text":"M.","dx":-56,"offset":22},
     "encoding":{"x":{"field":"s","type":"nominal","title":null,"sort":["Capillary","Venous"],"scale":{"paddingInner":0.39,"paddingOuter":0.1}},
       "y":{"field":"v","type":"quantitative","scale":{"domain":[0,200],"nice":false},"axis":{"title":["G/D Central Memory","(cells/µL)"],"values":[0,50,100,150,200]}}},
     "layer":[
      {"data":{"name":"summary"},"transform":[{"filter":"datum.p == 'M'"}],"mark":{"type":"rule","strokeWidth":1.5},"encoding":{"xOffset":{"field":"t","type":"nominal","sort":["Pre","Post"],"scale":{"paddingInner":0.36,"paddingOuter":0}},"y2":{"field":"hi"},"color":{"condition":{"test":"datum.t == 'Pre'","value":"#8fc0f2"},"value":"#f7b4b4"}}},
      {"data":{"name":"summary"},"transform":[{"filter":"datum.p == 'M'"}],"mark":{"type":"tick","thickness":1.5,"size":8},"encoding":{"xOffset":{"field":"t","type":"nominal","sort":["Pre","Post"],"scale":{"paddingInner":0.36,"paddingOuter":0}},"y":{"field":"hi","type":"quantitative","scale":{"domain":[0,200],"nice":false},"title":["G/D Central Memory","(cells/µL)"]},"color":{"condition":{"test":"datum.t == 'Pre'","value":"#8fc0f2"},"value":"#f7b4b4"}}},
      {"data":{"name":"summary"},"transform":[{"filter":"datum.p == 'M'"}],"mark":{"type":"bar","stroke":"black","strokeWidth":2},"encoding":{"xOffset":{"field":"t","type":"nominal","sort":["Pre","Post"],"scale":{"paddingInner":0.36,"paddingOuter":0}},"color":{"field":"t","type":"nominal","scale":{"domain":["Pre","Post"],"range":["#1f7ae0","#f26a6a"]},"legend":{"title":null}}}},
      {"data":{"name":"pts"},"transform":[{"filter":"datum.p == 'M'"},{"window":[{"op":"row_number","as":"id"}],"groupby":["s"],"sort":[{"field":"t","order":"descending"}]}],"mark":{"type":"point","filled":true,"size":50,"stroke":"#222222","strokeWidth":0.9,"opacity":1},"encoding":{"xOffset":{"field":"id","type":"ordinal","scale":{"type":"point","domain":[1,2,3,4,5,6,7,8,9,10,11,12,101,102,103,104,105,106,107,108,109,110,111,112,113,114,13,14,15,16,17,18,19,20,21,22,23,24],"padding":2.75}},"color":{"field":"t","type":"nominal","scale":{"domain":["Pre","Post"],"range":["#1f7ae0","#f26a6a"]},"legend":{"title":null}}}},
      {"data":{"name":"brackets"},"transform":[{"filter":"datum.p == 'M'"}],"mark":{"type":"line","color":"black","strokeWidth":1.5},"encoding":{"xOffset":{"field":"t","type":"nominal","sort":["Pre","Post"],"scale":{"paddingInner":0.36,"paddingOuter":0}},"detail":{"field":"b","type":"nominal"},"order":{"field":"o","type":"quantitative"}}},
      {"data":{"name":"stars"},"transform":[{"filter":"datum.p == 'M'"}],"mark":{"type":"text","fontSize":21,"fontWeight":"bold","baseline":"alphabetic","dy":2},"encoding":{"text":{"field":"label"}}}
     ],
     "resolve":{"scale":{"xOffset":"independent"}}},
    {"width":205,"height":194,"title":{"text":"N.","dx":-97,"offset":12},
     "encoding":{"x":{"field":"s","type":"nominal","title":null,"sort":["Capillary","Venous"],"scale":{"paddingInner":0.39,"paddingOuter":0.1}},
       "y":{"field":"v","type":"quantitative","scale":{"domain":[0,400],"nice":false},"axis":{"title":["G/D Effector Memory","(cells/µL)"],"values":[0,100,200,300,400]}}},
     "layer":[
      {"data":{"name":"summary"},"transform":[{"filter":"datum.p == 'N'"}],"mark":{"type":"rule","strokeWidth":1.5},"encoding":{"xOffset":{"field":"t","type":"nominal","sort":["Pre","Post"],"scale":{"paddingInner":0.36,"paddingOuter":0}},"y2":{"field":"hi"},"color":{"condition":{"test":"datum.t == 'Pre'","value":"#8fc0f2"},"value":"#f7b4b4"}}},
      {"data":{"name":"summary"},"transform":[{"filter":"datum.p == 'N'"}],"mark":{"type":"tick","thickness":1.5,"size":8},"encoding":{"xOffset":{"field":"t","type":"nominal","sort":["Pre","Post"],"scale":{"paddingInner":0.36,"paddingOuter":0}},"y":{"field":"hi","type":"quantitative","scale":{"domain":[0,400],"nice":false},"title":["G/D Effector Memory","(cells/µL)"]},"color":{"condition":{"test":"datum.t == 'Pre'","value":"#8fc0f2"},"value":"#f7b4b4"}}},
      {"data":{"name":"summary"},"transform":[{"filter":"datum.p == 'N'"}],"mark":{"type":"bar","stroke":"black","strokeWidth":2},"encoding":{"xOffset":{"field":"t","type":"nominal","sort":["Pre","Post"],"scale":{"paddingInner":0.36,"paddingOuter":0}},"color":{"field":"t","type":"nominal","scale":{"domain":["Pre","Post"],"range":["#1f7ae0","#f26a6a"]},"legend":{"title":null}}}},
      {"data":{"name":"pts"},"transform":[{"filter":"datum.p == 'N'"},{"window":[{"op":"row_number","as":"id"}],"groupby":["s"],"sort":[{"field":"t","order":"descending"}]}],"mark":{"type":"point","filled":true,"size":50,"stroke":"#222222","strokeWidth":0.9,"opacity":1},"encoding":{"xOffset":{"field":"id","type":"ordinal","scale":{"type":"point","domain":[1,2,3,4,5,6,7,8,9,10,11,12,101,102,103,104,105,106,107,108,109,110,111,112,113,114,13,14,15,16,17,18,19,20,21,22,23,24],"padding":2.75}},"color":{"field":"t","type":"nominal","scale":{"domain":["Pre","Post"],"range":["#1f7ae0","#f26a6a"]},"legend":{"title":null}}}},
      {"data":{"name":"brackets"},"transform":[{"filter":"datum.p == 'N'"}],"mark":{"type":"line","color":"black","strokeWidth":1.5},"encoding":{"xOffset":{"field":"t","type":"nominal","sort":["Pre","Post"],"scale":{"paddingInner":0.36,"paddingOuter":0}},"detail":{"field":"b","type":"nominal"},"order":{"field":"o","type":"quantitative"}}},
      {"data":{"name":"stars"},"transform":[{"filter":"datum.p == 'N'"}],"mark":{"type":"text","fontSize":21,"fontWeight":"bold","baseline":"alphabetic","dy":2},"encoding":{"text":{"field":"label"}}}
     ],
     "resolve":{"scale":{"xOffset":"independent"}}},
    {"width":205,"height":194,"title":{"text":"O.","dx":-95,"offset":22},
     "encoding":{"x":{"field":"s","type":"nominal","title":null,"sort":["Capillary","Venous"],"scale":{"paddingInner":0.39,"paddingOuter":0.1}},
       "y":{"field":"v","type":"quantitative","scale":{"domain":[0,250],"nice":false},"axis":{"title":"G/D TEMRA (cells/µL)","values":[0,50,100,150,200,250]}}},
     "layer":[
      {"data":{"name":"summary"},"transform":[{"filter":"datum.p == 'O'"}],"mark":{"type":"rule","strokeWidth":1.5},"encoding":{"xOffset":{"field":"t","type":"nominal","sort":["Pre","Post"],"scale":{"paddingInner":0.36,"paddingOuter":0}},"y2":{"field":"hi"},"color":{"condition":{"test":"datum.t == 'Pre'","value":"#8fc0f2"},"value":"#f7b4b4"}}},
      {"data":{"name":"summary"},"transform":[{"filter":"datum.p == 'O'"}],"mark":{"type":"tick","thickness":1.5,"size":8},"encoding":{"xOffset":{"field":"t","type":"nominal","sort":["Pre","Post"],"scale":{"paddingInner":0.36,"paddingOuter":0}},"y":{"field":"hi","type":"quantitative","scale":{"domain":[0,250],"nice":false},"title":"G/D TEMRA (cells/µL)"},"color":{"condition":{"test":"datum.t == 'Pre'","value":"#8fc0f2"},"value":"#f7b4b4"}}},
      {"data":{"name":"summary"},"transform":[{"filter":"datum.p == 'O'"}],"mark":{"type":"bar","stroke":"black","strokeWidth":2},"encoding":{"xOffset":{"field":"t","type":"nominal","sort":["Pre","Post"],"scale":{"paddingInner":0.36,"paddingOuter":0}},"color":{"field":"t","type":"nominal","scale":{"domain":["Pre","Post"],"range":["#1f7ae0","#f26a6a"]},"legend":{"title":null}}}},
      {"data":{"name":"pts"},"transform":[{"filter":"datum.p == 'O'"},{"window":[{"op":"row_number","as":"id"}],"groupby":["s"],"sort":[{"field":"t","order":"descending"}]}],"mark":{"type":"point","filled":true,"size":50,"stroke":"#222222","strokeWidth":0.9,"opacity":1},"encoding":{"xOffset":{"field":"id","type":"ordinal","scale":{"type":"point","domain":[1,2,3,4,5,6,7,8,9,10,11,12,101,102,103,104,105,106,107,108,109,110,111,112,113,114,13,14,15,16,17,18,19,20,21,22,23,24],"padding":2.75}},"color":{"field":"t","type":"nominal","scale":{"domain":["Pre","Post"],"range":["#1f7ae0","#f26a6a"]},"legend":{"title":null}}}}
     ],
     "resolve":{"scale":{"xOffset":"independent"}}}
  ],
  "config": {
    "font": "Liberation Sans",
    "view": {"stroke": null},
    "axis": {"grid": false, "domainColor": "black", "domainWidth": 2, "tickColor": "black", "tickWidth": 2, "tickSize": 6, "labelColor": "black", "labelFontWeight": "bold", "labelFontSize": 16, "labelPadding": 2, "titleColor": "black", "titleFontWeight": "bold", "titleFontSize": 19},
    "axisY": {"titlePadding": 10, "titleLineHeight": 21, "format": "d", "labelFontSize": 17},
    "axisX": {"labelAngle": 0, "labelPadding": 4},
    "title": {"fontSize": 32, "fontWeight": "bold", "anchor": "start", "frame": "group", "color": "black"},
    "legend": {"orient": "right", "offset": 27, "symbolType": "circle", "symbolSize": 64, "symbolStrokeWidth": 0, "labelFontSize": 11, "labelColor": "black", "labelOffset": 10, "rowPadding": 8, "padding": 3}
  }
}
